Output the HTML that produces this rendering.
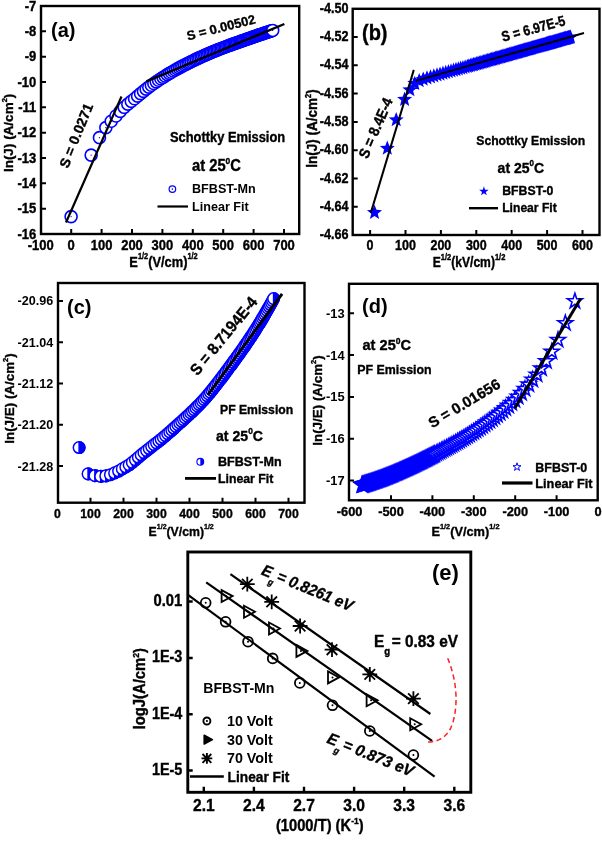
<!DOCTYPE html>
<html><head><meta charset="utf-8"><title>Figure</title>
<style>
html,body{margin:0;padding:0;background:#fff}
svg{display:block}
text{font-family:"Liberation Sans", Arial, Helvetica, sans-serif;font-weight:bold;fill:#000}
.k{stroke:#000;stroke-width:0.35px}
</style></head>
<body>
<svg width="602" height="844" viewBox="0 0 602 844">
<rect width="602" height="844" fill="#fff"/>
<g fill="#fff" stroke="#0000ff" stroke-width="1.6"><circle cx="71.1" cy="216.6" r="6"/><circle cx="91.16" cy="155.1" r="6"/><circle cx="99.47" cy="137.66" r="6"/><circle cx="105.84" cy="127.64" r="6"/><circle cx="111.22" cy="121.28" r="6"/><circle cx="115.96" cy="116.05" r="6"/><circle cx="120.24" cy="111.36" r="6"/><circle cx="124.17" cy="107.32" r="6"/><circle cx="127.84" cy="104.13" r="6"/><circle cx="131.28" cy="101.35" r="6"/><circle cx="134.54" cy="98.7" r="6"/><circle cx="137.63" cy="96.13" r="6"/><circle cx="140.59" cy="93.67" r="6"/><circle cx="143.43" cy="91.35" r="6"/><circle cx="146.16" cy="89.17" r="6"/><circle cx="148.79" cy="87.15" r="6"/><circle cx="151.34" cy="85.28" r="6"/><circle cx="153.81" cy="83.51" r="6"/><circle cx="156.21" cy="81.84" r="6"/><circle cx="158.54" cy="80.26" r="6"/><circle cx="160.81" cy="78.75" r="6"/><circle cx="163.03" cy="77.32" r="6"/><circle cx="165.19" cy="75.95" r="6"/><circle cx="167.3" cy="74.65" r="6"/><circle cx="169.37" cy="73.4" r="6"/><circle cx="171.4" cy="72.21" r="6"/><circle cx="173.39" cy="71.06" r="6"/><circle cx="175.33" cy="69.96" r="6"/><circle cx="177.25" cy="68.89" r="6"/><circle cx="179.13" cy="67.87" r="6"/><circle cx="180.97" cy="66.87" r="6"/><circle cx="182.79" cy="65.91" r="6"/><circle cx="184.58" cy="64.98" r="6"/><circle cx="186.34" cy="64.07" r="6"/><circle cx="188.07" cy="63.19" r="6"/><circle cx="189.78" cy="62.34" r="6"/><circle cx="191.46" cy="61.51" r="6"/><circle cx="193.12" cy="60.7" r="6"/><circle cx="194.76" cy="59.92" r="6"/><circle cx="196.37" cy="59.15" r="6"/><circle cx="197.97" cy="58.4" r="6"/><circle cx="199.55" cy="57.67" r="6"/><circle cx="201.1" cy="56.96" r="6"/><circle cx="202.64" cy="56.26" r="6"/><circle cx="204.16" cy="55.57" r="6"/><circle cx="205.67" cy="54.9" r="6"/><circle cx="207.15" cy="54.24" r="6"/><circle cx="208.62" cy="53.6" r="6"/><circle cx="210.08" cy="52.98" r="6"/><circle cx="211.52" cy="52.37" r="6"/><circle cx="212.95" cy="51.77" r="6"/><circle cx="214.36" cy="51.19" r="6"/><circle cx="215.75" cy="50.62" r="6"/><circle cx="217.14" cy="50.07" r="6"/><circle cx="218.51" cy="49.52" r="6"/><circle cx="219.87" cy="48.99" r="6"/><circle cx="221.22" cy="48.47" r="6"/><circle cx="222.55" cy="47.96" r="6"/><circle cx="223.87" cy="47.46" r="6"/><circle cx="225.18" cy="46.97" r="6"/><circle cx="226.48" cy="46.48" r="6"/><circle cx="227.77" cy="46.01" r="6"/><circle cx="229.05" cy="45.54" r="6"/><circle cx="230.32" cy="45.08" r="6"/><circle cx="231.58" cy="44.62" r="6"/><circle cx="232.83" cy="44.17" r="6"/><circle cx="234.07" cy="43.73" r="6"/><circle cx="235.3" cy="43.29" r="6"/><circle cx="236.52" cy="42.85" r="6"/><circle cx="237.73" cy="42.43" r="6"/><circle cx="238.93" cy="42" r="6"/><circle cx="240.13" cy="41.58" r="6"/><circle cx="241.31" cy="41.16" r="6"/><circle cx="242.49" cy="40.75" r="6"/><circle cx="243.66" cy="40.34" r="6"/><circle cx="244.82" cy="39.94" r="6"/><circle cx="245.98" cy="39.53" r="6"/><circle cx="247.13" cy="39.13" r="6"/><circle cx="248.27" cy="38.73" r="6"/><circle cx="249.4" cy="38.34" r="6"/><circle cx="250.52" cy="37.94" r="6"/><circle cx="251.64" cy="37.55" r="6"/><circle cx="252.75" cy="37.17" r="6"/><circle cx="253.86" cy="36.78" r="6"/><circle cx="254.95" cy="36.4" r="6"/><circle cx="256.04" cy="36.03" r="6"/><circle cx="257.13" cy="35.66" r="6"/><circle cx="258.21" cy="35.29" r="6"/><circle cx="259.28" cy="34.92" r="6"/><circle cx="260.35" cy="34.56" r="6"/><circle cx="261.41" cy="34.2" r="6"/><circle cx="262.46" cy="33.84" r="6"/><circle cx="263.51" cy="33.49" r="6"/><circle cx="264.55" cy="33.14" r="6"/><circle cx="265.59" cy="32.79" r="6"/><circle cx="266.62" cy="32.45" r="6"/><circle cx="267.65" cy="32.1" r="6"/><circle cx="268.67" cy="31.76" r="6"/><circle cx="269.68" cy="31.43" r="6"/><circle cx="270.69" cy="31.09" r="6"/><circle cx="271.7" cy="30.76" r="6"/><circle cx="272.7" cy="30.43" r="6"/></g>
<path d="M71.1 216.6h0.01M91.16 155.1h0.01M99.47 137.66h0.01M105.84 127.64h0.01M111.22 121.28h0.01M115.96 116.05h0.01M120.24 111.36h0.01M272.7 30.43h0.01" stroke="#0000ff" stroke-width="1.3" stroke-linecap="round" fill="none"/>
<line x1="66" y1="222.5" x2="121.5" y2="96.5" stroke="#000" stroke-width="2.2" stroke-linecap="butt"/>
<line x1="146.5" y1="81.4" x2="284.4" y2="24" stroke="#000" stroke-width="2.4" stroke-linecap="butt"/>
<rect x="41" y="6" width="258.2" height="228" fill="none" stroke="#000" stroke-width="2.4"/>
<path d="M41 208.67h5M41 183.33h5M41 158h5M41 132.67h5M41 107.33h5M41 82h5M41 56.67h5M41 31.33h5" stroke="#000" stroke-width="2" fill="none"/>
<path d="M71.2 234v-5M101.6 234v-5M132 234v-5M162.4 234v-5M192.8 234v-5M223.2 234v-5M253.6 234v-5M284 234v-5" stroke="#000" stroke-width="2" fill="none"/>
<text transform="translate(36.3 238.5) scale(1 1.07)" font-size="13" class="k" text-anchor="end">-16</text>
<text transform="translate(36.3 213.17) scale(1 1.07)" font-size="13" class="k" text-anchor="end">-15</text>
<text transform="translate(36.3 187.83) scale(1 1.07)" font-size="13" class="k" text-anchor="end">-14</text>
<text transform="translate(36.3 162.5) scale(1 1.07)" font-size="13" class="k" text-anchor="end">-13</text>
<text transform="translate(36.3 137.17) scale(1 1.07)" font-size="13" class="k" text-anchor="end">-12</text>
<text transform="translate(36.3 111.83) scale(1 1.07)" font-size="13" class="k" text-anchor="end">-11</text>
<text transform="translate(36.3 86.5) scale(1 1.07)" font-size="13" class="k" text-anchor="end">-10</text>
<text transform="translate(36.3 61.17) scale(1 1.07)" font-size="13" class="k" text-anchor="end">-9</text>
<text transform="translate(36.3 35.83) scale(1 1.07)" font-size="13" class="k" text-anchor="end">-8</text>
<text transform="translate(36.3 10.5) scale(1 1.07)" font-size="13" class="k" text-anchor="end">-7</text>
<text transform="translate(40.8 249.6) scale(1 1.12)" font-size="13" class="k" text-anchor="middle">-100</text>
<text transform="translate(71.2 249.6) scale(1 1.12)" font-size="13" class="k" text-anchor="middle">0</text>
<text transform="translate(101.6 249.6) scale(1 1.12)" font-size="13" class="k" text-anchor="middle">100</text>
<text transform="translate(132 249.6) scale(1 1.12)" font-size="13" class="k" text-anchor="middle">200</text>
<text transform="translate(162.4 249.6) scale(1 1.12)" font-size="13" class="k" text-anchor="middle">300</text>
<text transform="translate(192.8 249.6) scale(1 1.12)" font-size="13" class="k" text-anchor="middle">400</text>
<text transform="translate(223.2 249.6) scale(1 1.12)" font-size="13" class="k" text-anchor="middle">500</text>
<text transform="translate(253.6 249.6) scale(1 1.12)" font-size="13" class="k" text-anchor="middle">600</text>
<text transform="translate(284 249.6) scale(1 1.12)" font-size="13" class="k" text-anchor="middle">700</text>
<text transform="translate(13.3 132.9) rotate(-90)" font-size="13.5" class="k" text-anchor="middle">ln(J) (A/cm<tspan font-size="7.5" dy="-6">2</tspan><tspan dy="6">)</tspan></text>
<text transform="translate(129.3 267) scale(0.946 1.08)" font-size="13.6" class="k">E<tspan font-size="7.8" dy="-7.5">1/2</tspan><tspan dy="7.5">(V/cm)</tspan><tspan font-size="7.8" dy="-7.5">1/2</tspan></text>
<text transform="translate(51 36.5)" font-size="20">(a)</text>
<text transform="translate(188 40.5) rotate(-14.3)" font-size="13" class="k">S = 0.00502</text>
<text transform="translate(67.9 168.9) rotate(-68)" font-size="14" class="k">S = 0.0271</text>
<text transform="translate(170 141.8) scale(0.976 1.04)" font-size="13.2" class="k">Schottky Emission</text>
<text transform="translate(192 171) scale(1.003 1.08)" font-size="14.7" class="k">at 25<tspan font-size="8.5" dy="-6.5">0</tspan><tspan dy="6.5">C</tspan></text>
<text transform="translate(192 192.8)" font-size="12.6">BFBST-Mn</text>
<text transform="translate(192 210.5)" font-size="12.6">Linear Fit</text>
<circle cx="172.4" cy="189.1" r="3.3" fill="none" stroke="#0000ff" stroke-width="1.2"/><circle cx="172.4" cy="189.1" r="0.8" fill="#0000ff"/>
<line x1="157.5" y1="206.5" x2="188" y2="206.5" stroke="#000" stroke-width="2.2" stroke-linecap="butt"/>
<path d="M374.5 204.7L376.5 209.85L382.01 210.16L377.73 213.65L379.14 218.99L374.5 216L369.86 218.99L371.27 213.65L366.99 210.16L372.5 209.85ZM387.3 140.5L389.3 145.65L394.81 145.96L390.53 149.45L391.94 154.79L387.3 151.8L382.66 154.79L384.07 149.45L379.79 145.96L385.3 145.65ZM396.2 112L398.2 117.15L403.71 117.46L399.43 120.95L400.84 126.29L396.2 123.3L391.56 126.29L392.97 120.95L388.69 117.46L394.2 117.15ZM404.6 91.6L406.6 96.75L412.11 97.06L407.83 100.55L409.24 105.89L404.6 102.9L399.96 105.89L401.37 100.55L397.09 97.06L402.6 96.75ZM409.89 82L411.89 87.15L417.4 87.46L413.12 90.95L414.53 96.29L409.89 93.3L405.25 96.29L406.66 90.95L402.38 87.46L407.89 87.15ZM414.79 75.65L416.78 80.8L422.3 81.11L418.02 84.6L419.43 89.94L414.79 86.95L410.14 89.94L411.55 84.6L407.27 81.11L412.79 80.8ZM419.2 73.02L421.19 78.17L426.71 78.48L422.43 81.97L423.84 87.31L419.2 84.32L414.55 87.31L415.96 81.97L411.68 78.48L417.2 78.17ZM423.24 71.43L425.24 76.58L430.75 76.89L426.47 80.38L427.88 85.72L423.24 82.73L418.6 85.72L420.01 80.38L415.73 76.89L421.24 76.58ZM427 70.21L428.99 75.36L434.51 75.67L430.23 79.16L431.64 84.5L427 81.51L422.35 84.5L423.77 79.16L419.48 75.67L425 75.36ZM430.52 69.15L432.52 74.3L438.04 74.61L433.75 78.1L435.17 83.44L430.52 80.44L425.88 83.44L427.29 78.1L423.01 74.61L428.53 74.3ZM433.85 68.18L435.85 73.33L441.37 73.63L437.08 77.13L438.5 82.47L433.85 79.47L429.21 82.47L430.62 77.13L426.34 73.63L431.86 73.33ZM437.02 67.27L439.01 72.42L444.53 72.72L440.25 76.21L441.66 81.56L437.02 78.56L432.37 81.56L433.79 76.21L429.5 72.72L435.02 72.42ZM440.04 66.4L442.04 71.55L447.55 71.86L443.27 75.35L444.68 80.69L440.04 77.7L435.4 80.69L436.81 75.35L432.53 71.86L438.04 71.55ZM442.94 65.57L444.93 70.73L450.45 71.03L446.17 74.52L447.58 79.86L442.94 76.87L438.29 79.86L439.71 74.52L435.42 71.03L440.94 70.73ZM445.72 64.78L447.72 69.93L453.24 70.24L448.95 73.73L450.37 79.07L445.72 76.08L441.08 79.07L442.49 73.73L438.21 70.24L443.73 69.93ZM448.41 64.01L450.41 69.17L455.92 69.47L451.64 72.96L453.05 78.3L448.41 75.31L443.76 78.3L445.18 72.96L440.9 69.47L446.41 69.17ZM451.01 63.27L453 68.43L458.52 68.73L454.24 72.22L455.65 77.56L451.01 74.57L446.36 77.56L447.78 72.22L443.49 68.73L449.01 68.43ZM453.52 62.56L455.52 67.71L461.04 68.02L456.75 71.51L458.17 76.85L453.52 73.85L448.88 76.85L450.29 71.51L446.01 68.02L451.53 67.71ZM455.97 61.86L457.96 67.01L463.48 67.32L459.2 70.81L460.61 76.15L455.97 73.16L451.32 76.15L452.73 70.81L448.45 67.32L453.97 67.01ZM458.34 61.18L460.34 66.34L465.85 66.64L461.57 70.13L462.98 75.48L458.34 72.48L453.7 75.48L455.11 70.13L450.83 66.64L456.34 66.34ZM460.65 60.53L462.65 65.68L468.17 65.98L463.88 69.48L465.3 74.82L460.65 71.82L456.01 74.82L457.42 69.48L453.14 65.98L458.66 65.68ZM462.91 59.88L464.91 65.04L470.42 65.34L466.14 68.83L467.55 74.17L462.91 71.18L458.27 74.17L459.68 68.83L455.4 65.34L460.91 65.04ZM465.11 59.26L467.11 64.41L472.62 64.72L468.34 68.21L469.75 73.55L465.11 70.55L460.47 73.55L461.88 68.21L457.6 64.72L463.11 64.41ZM467.26 58.64L469.26 63.8L474.78 64.1L470.49 67.59L471.91 72.93L467.26 69.94L462.62 72.93L464.03 67.59L459.75 64.1L465.27 63.8ZM468.86 58.19L470.86 63.34L476.37 63.65L472.09 67.14L473.51 72.48L468.86 69.49L464.22 72.48L465.63 67.14L461.35 63.65L466.86 63.34ZM470.44 57.74L472.43 62.89L477.95 63.2L473.67 66.69L475.08 72.03L470.44 69.04L465.79 72.03L467.2 66.69L462.92 63.2L468.44 62.89ZM471.98 57.3L473.98 62.45L479.5 62.76L475.22 66.25L476.63 71.59L471.98 68.6L467.34 71.59L468.75 66.25L464.47 62.76L469.99 62.45ZM473.51 56.86L475.51 62.02L481.02 62.32L476.74 65.81L478.15 71.16L473.51 68.16L468.87 71.16L470.28 65.81L466 62.32L471.51 62.02ZM475.01 56.44L477.01 61.59L482.53 61.89L478.25 65.39L479.66 70.73L475.01 67.73L470.37 70.73L471.78 65.39L467.5 61.89L473.02 61.59ZM476.5 56.01L478.49 61.17L484.01 61.47L479.73 64.96L481.14 70.3L476.5 67.31L471.85 70.3L473.27 64.96L468.98 61.47L474.5 61.17ZM477.96 55.6L479.96 60.75L485.47 61.06L481.19 64.55L482.6 69.89L477.96 66.89L473.32 69.89L474.73 64.55L470.45 61.06L475.96 60.75ZM479.4 55.19L481.4 60.34L486.92 60.64L482.63 64.14L484.05 69.48L479.4 66.48L474.76 69.48L476.17 64.14L471.89 60.64L477.41 60.34ZM480.83 54.78L482.82 59.93L488.34 60.24L484.06 63.73L485.47 69.07L480.83 66.08L476.18 69.07L477.59 63.73L473.31 60.24L478.83 59.93ZM482.23 54.38L484.23 59.53L489.74 59.84L485.46 63.33L486.87 68.67L482.23 65.68L477.59 68.67L479 63.33L474.72 59.84L480.23 59.53ZM483.62 53.98L485.62 59.14L491.13 59.44L486.85 62.93L488.26 68.28L483.62 65.28L478.98 68.28L480.39 62.93L476.11 59.44L481.62 59.14ZM484.99 53.59L486.99 58.75L492.5 59.05L488.22 62.54L489.63 67.89L484.99 64.89L480.35 67.89L481.76 62.54L477.48 59.05L482.99 58.75ZM486.35 53.21L488.34 58.36L493.86 58.67L489.58 62.16L490.99 67.5L486.35 64.51L481.7 67.5L483.12 62.16L478.83 58.67L484.35 58.36ZM487.69 52.83L489.68 57.98L495.2 58.29L490.92 61.78L492.33 67.12L487.69 64.12L483.04 67.12L484.46 61.78L480.17 58.29L485.69 57.98ZM489.01 52.45L491.01 57.6L496.52 57.91L492.24 61.4L493.65 66.74L489.01 63.75L484.37 66.74L485.78 61.4L481.5 57.91L487.01 57.6ZM490.32 52.08L492.32 57.23L497.83 57.54L493.55 61.03L494.96 66.37L490.32 63.37L485.68 66.37L487.09 61.03L482.81 57.54L488.32 57.23ZM491.62 51.71L493.61 56.86L499.13 57.17L494.85 60.66L496.26 66L491.62 63L486.97 66L488.39 60.66L484.1 57.17L489.62 56.86ZM492.9 51.34L494.9 56.49L500.41 56.8L496.13 60.29L497.54 65.63L492.9 62.64L488.26 65.63L489.67 60.29L485.39 56.8L490.9 56.49ZM494.17 50.98L496.17 56.13L501.68 56.44L497.4 59.93L498.81 65.27L494.17 62.28L489.53 65.27L490.94 59.93L486.66 56.44L492.17 56.13ZM495.42 50.62L497.42 55.77L502.94 56.08L498.66 59.57L500.07 64.91L495.42 61.92L490.78 64.91L492.19 59.57L487.91 56.08L493.43 55.77ZM496.67 50.27L498.67 55.42L504.18 55.73L499.9 59.22L501.31 64.56L496.67 61.57L492.03 64.56L493.44 59.22L489.16 55.73L494.67 55.42ZM497.9 49.92L499.9 55.07L505.41 55.38L501.13 58.87L502.54 64.21L497.9 61.21L493.26 64.21L494.67 58.87L490.39 55.38L495.9 55.07ZM499.12 49.57L501.12 54.72L506.63 55.03L502.35 58.52L503.76 63.86L499.12 60.87L494.48 63.86L495.89 58.52L491.61 55.03L497.12 54.72ZM500.33 49.23L502.33 54.38L507.84 54.68L503.56 58.18L504.97 63.52L500.33 60.52L495.69 63.52L497.1 58.18L492.82 54.68L498.33 54.38ZM501.53 48.89L503.52 54.04L509.04 54.34L504.76 57.83L506.17 63.18L501.53 60.18L496.88 63.18L498.3 57.83L494.01 54.34L499.53 54.04ZM502.71 48.55L504.71 53.7L510.23 54.01L505.94 57.5L507.36 62.84L502.71 59.84L498.07 62.84L499.48 57.5L495.2 54.01L500.72 53.7ZM503.89 48.21L505.89 53.36L511.4 53.67L507.12 57.16L508.53 62.5L503.89 59.51L499.25 62.5L500.66 57.16L496.38 53.67L501.89 53.36ZM505.05 47.88L507.05 53.03L512.57 53.34L508.29 56.83L509.7 62.17L505.05 59.18L500.41 62.17L501.82 56.83L497.54 53.34L503.06 53.03ZM506.21 47.55L508.21 52.7L513.72 53.01L509.44 56.5L510.85 61.84L506.21 58.85L501.57 61.84L502.98 56.5L498.7 53.01L504.21 52.7ZM507.36 47.22L509.35 52.38L514.87 52.68L510.59 56.17L512 61.52L507.36 58.52L502.71 61.52L504.13 56.17L499.84 52.68L505.36 52.38ZM508.49 46.9L510.49 52.05L516.01 52.36L511.72 55.85L513.14 61.19L508.49 58.2L503.85 61.19L505.26 55.85L500.98 52.36L506.5 52.05ZM509.62 46.58L511.62 51.73L517.13 52.04L512.85 55.53L514.26 60.87L509.62 57.88L504.98 60.87L506.39 55.53L502.11 52.04L507.62 51.73ZM510.74 46.26L512.73 51.41L518.25 51.72L513.97 55.21L515.38 60.55L510.74 57.56L506.09 60.55L507.51 55.21L503.22 51.72L508.74 51.41ZM511.85 45.95L513.84 51.1L519.36 51.4L515.08 54.9L516.49 60.24L511.85 57.24L507.2 60.24L508.62 54.9L504.33 51.4L509.85 51.1ZM512.95 45.63L514.95 50.78L520.46 51.09L516.18 54.58L517.59 59.92L512.95 56.93L508.31 59.92L509.72 54.58L505.44 51.09L510.95 50.78ZM514.04 45.32L516.04 50.47L521.55 50.78L517.27 54.27L518.68 59.61L514.04 56.62L509.4 59.61L510.81 54.27L506.53 50.78L512.04 50.47ZM515.13 45.01L517.12 50.16L522.64 50.47L518.36 53.96L519.77 59.3L515.13 56.31L510.48 59.3L511.89 53.96L507.61 50.47L513.13 50.16ZM516.2 44.71L518.2 49.86L523.71 50.16L519.43 53.66L520.84 59L516.2 56L511.56 59L512.97 53.66L508.69 50.16L514.2 49.86ZM517.27 44.4L519.27 49.55L524.78 49.86L520.5 53.35L521.91 58.69L517.27 55.7L512.63 58.69L514.04 53.35L509.76 49.86L515.27 49.55ZM518.33 44.1L520.33 49.25L525.84 49.56L521.56 53.05L522.97 58.39L518.33 55.4L513.69 58.39L515.1 53.05L510.82 49.56L516.33 49.25ZM519.38 43.8L521.38 48.95L526.9 49.26L522.61 52.75L524.03 58.09L519.38 55.1L514.74 58.09L516.15 52.75L511.87 49.26L517.39 48.95ZM520.43 43.5L522.43 48.65L527.94 48.96L523.66 52.45L525.07 57.79L520.43 54.8L515.79 57.79L517.2 52.45L512.92 48.96L518.43 48.65ZM521.47 43.21L523.46 48.36L528.98 48.66L524.7 52.16L526.11 57.5L521.47 54.5L516.82 57.5L518.24 52.16L513.95 48.66L519.47 48.36ZM522.5 42.91L524.5 48.06L530.01 48.37L525.73 51.86L527.14 57.2L522.5 54.21L517.86 57.2L519.27 51.86L514.99 48.37L520.5 48.06ZM523.52 42.62L525.52 47.77L531.04 48.08L526.75 51.57L528.17 56.91L523.52 53.92L518.88 56.91L520.29 51.57L516.01 48.08L521.53 47.77ZM524.54 42.33L526.54 47.48L532.05 47.79L527.77 51.28L529.18 56.62L524.54 53.63L519.9 56.62L521.31 51.28L517.03 47.79L522.54 47.48ZM525.55 42.04L527.55 47.19L533.06 47.5L528.78 50.99L530.2 56.33L525.55 53.34L520.91 56.33L522.32 50.99L518.04 47.5L523.55 47.19ZM526.56 41.76L528.55 46.91L534.07 47.22L529.79 50.71L531.2 56.05L526.56 53.05L521.91 56.05L523.33 50.71L519.04 47.22L524.56 46.91ZM527.55 41.47L529.55 46.62L535.07 46.93L530.78 50.42L532.2 55.76L527.55 52.77L522.91 55.76L524.32 50.42L520.04 46.93L525.56 46.62ZM528.55 41.19L530.54 46.34L536.06 46.65L531.78 50.14L533.19 55.48L528.55 52.49L523.9 55.48L525.32 50.14L521.03 46.65L526.55 46.34ZM529.53 40.91L531.53 46.06L537.04 46.37L532.76 49.86L534.17 55.2L529.53 52.21L524.89 55.2L526.3 49.86L522.02 46.37L527.53 46.06ZM530.51 40.63L532.51 45.78L538.02 46.09L533.74 49.58L535.15 54.92L530.51 51.93L525.87 54.92L527.28 49.58L523 46.09L528.51 45.78ZM531.48 40.35L533.48 45.5L539 45.81L534.72 49.3L536.13 54.64L531.48 51.65L526.84 54.64L528.25 49.3L523.97 45.81L529.49 45.5ZM532.45 40.08L534.45 45.23L539.97 45.54L535.68 49.03L537.1 54.37L532.45 51.37L527.81 54.37L529.22 49.03L524.94 45.54L530.46 45.23ZM533.41 39.8L535.41 44.96L540.93 45.26L536.64 48.75L538.06 54.09L533.41 51.1L528.77 54.09L530.18 48.75L525.9 45.26L531.42 44.96ZM534.37 39.53L536.37 44.68L541.88 44.99L537.6 48.48L539.01 53.82L534.37 50.83L529.73 53.82L531.14 48.48L526.86 44.99L532.37 44.68ZM535.32 39.26L537.32 44.41L542.83 44.72L538.55 48.21L539.96 53.55L535.32 50.56L530.68 53.55L532.09 48.21L527.81 44.72L533.32 44.41ZM536.27 38.99L538.26 44.14L543.78 44.45L539.5 47.94L540.91 53.28L536.27 50.29L531.62 53.28L533.04 47.94L528.75 44.45L534.27 44.14ZM537.21 38.72L539.2 43.88L544.72 44.18L540.44 47.67L541.85 53.01L537.21 50.02L532.56 53.01L533.98 47.67L529.69 44.18L535.21 43.88ZM538.14 38.46L540.14 43.61L545.65 43.92L541.37 47.41L542.79 52.75L538.14 49.75L533.5 52.75L534.91 47.41L530.63 43.92L536.14 43.61ZM539.07 38.19L541.07 43.34L546.58 43.65L542.3 47.14L543.71 52.48L539.07 49.49L534.43 52.48L535.84 47.14L531.56 43.65L537.07 43.34ZM540 37.93L541.99 43.08L547.51 43.39L543.23 46.88L544.64 52.22L540 49.23L535.35 52.22L536.76 46.88L532.48 43.39L538 43.08ZM540.92 37.67L542.91 42.82L548.43 43.13L544.15 46.62L545.56 51.96L540.92 48.96L536.27 51.96L537.68 46.62L533.4 43.13L538.92 42.82ZM541.83 37.41L543.83 42.56L549.34 42.87L545.06 46.36L546.47 51.7L541.83 48.7L537.19 51.7L538.6 46.36L534.32 42.87L539.83 42.56ZM542.74 37.15L544.74 42.3L550.25 42.61L545.97 46.1L547.38 51.44L542.74 48.44L538.1 51.44L539.51 46.1L535.23 42.61L540.74 42.3ZM543.64 36.89L545.64 42.04L551.16 42.35L546.88 45.84L548.29 51.18L543.64 48.19L539 51.18L540.41 45.84L536.13 42.35L541.65 42.04ZM544.54 36.63L546.54 41.79L552.06 42.09L547.78 45.58L549.19 50.92L544.54 47.93L539.9 50.92L541.31 45.58L537.03 42.09L542.55 41.79ZM545.44 36.38L547.44 41.53L552.95 41.84L548.67 45.33L550.08 50.67L545.44 47.68L540.8 50.67L542.21 45.33L537.93 41.84L543.44 41.53ZM546.33 36.12L548.33 41.28L553.84 41.58L549.56 45.07L550.98 50.42L546.33 47.42L541.69 50.42L543.1 45.07L538.82 41.58L544.33 41.28ZM547.22 35.87L549.21 41.02L554.73 41.33L550.45 44.82L551.86 50.16L547.22 47.17L542.57 50.16L543.99 44.82L539.7 41.33L545.22 41.02ZM548.1 35.62L550.1 40.77L555.61 41.08L551.33 44.57L552.74 49.91L548.1 46.92L543.46 49.91L544.87 44.57L540.59 41.08L546.1 40.77ZM548.98 35.37L550.97 40.52L556.49 40.83L552.21 44.32L553.62 49.66L548.98 46.67L544.33 49.66L545.75 44.32L541.46 40.83L546.98 40.52ZM549.85 35.12L551.85 40.27L557.37 40.58L553.08 44.07L554.5 49.41L549.85 46.42L545.21 49.41L546.62 44.07L542.34 40.58L547.86 40.27ZM550.72 34.87L552.72 40.03L558.23 40.33L553.95 43.82L555.36 49.17L550.72 46.17L546.08 49.17L547.49 43.82L543.21 40.33L548.72 40.03ZM551.59 34.63L553.58 39.78L559.1 40.09L554.82 43.58L556.23 48.92L551.59 45.93L546.94 48.92L548.36 43.58L544.07 40.09L549.59 39.78ZM552.45 34.38L554.44 39.53L559.96 39.84L555.68 43.33L557.09 48.67L552.45 45.68L547.8 48.67L549.22 43.33L544.93 39.84L550.45 39.53ZM553.3 34.14L555.3 39.29L560.82 39.6L556.54 43.09L557.95 48.43L553.3 45.44L548.66 48.43L550.07 43.09L545.79 39.6L551.31 39.29ZM554.16 33.9L556.15 39.05L561.67 39.35L557.39 42.85L558.8 48.19L554.16 45.19L549.51 48.19L550.93 42.85L546.64 39.35L552.16 39.05ZM555.01 33.65L557 38.81L562.52 39.11L558.24 42.6L559.65 47.95L555.01 44.95L550.36 47.95L551.78 42.6L547.49 39.11L553.01 38.81ZM555.85 33.41L557.85 38.56L563.37 38.87L559.08 42.36L560.5 47.7L555.85 44.71L551.21 47.7L552.62 42.36L548.34 38.87L553.86 38.56ZM556.69 33.17L558.69 38.33L564.21 38.63L559.92 42.12L561.34 47.46L556.69 44.47L552.05 47.46L553.46 42.12L549.18 38.63L554.7 38.33ZM557.53 32.94L559.53 38.09L565.04 38.39L560.76 41.88L562.17 47.23L557.53 44.23L552.89 47.23L554.3 41.88L550.02 38.39L555.53 38.09ZM558.36 32.7L560.36 37.85L565.88 38.16L561.6 41.65L563.01 46.99L558.36 43.99L553.72 46.99L555.13 41.65L550.85 38.16L556.37 37.85ZM559.19 32.46L561.19 37.61L566.71 37.92L562.43 41.41L563.84 46.75L559.19 43.76L554.55 46.75L555.96 41.41L551.68 37.92L557.2 37.61ZM560.02 32.23L562.02 37.38L567.53 37.68L563.25 41.18L564.67 46.52L560.02 43.52L555.38 46.52L556.79 41.18L552.51 37.68L558.02 37.38ZM560.84 31.99L562.84 37.14L568.36 37.45L564.08 40.94L565.49 46.28L560.84 43.29L556.2 46.28L557.61 40.94L553.33 37.45L558.85 37.14ZM561.66 31.76L563.66 36.91L569.18 37.22L564.89 40.71L566.31 46.05L561.66 43.05L557.02 46.05L558.43 40.71L554.15 37.22L559.67 36.91ZM562.48 31.53L564.48 36.68L569.99 36.98L565.71 40.48L567.12 45.82L562.48 42.82L557.84 45.82L559.25 40.48L554.97 36.98L560.48 36.68ZM563.29 31.29L565.29 36.45L570.81 36.75L566.52 40.24L567.94 45.59L563.29 42.59L558.65 45.59L560.06 40.24L555.78 36.75L561.3 36.45ZM564.1 31.06L566.1 36.22L571.62 36.52L567.33 40.01L568.75 45.35L564.1 42.36L559.46 45.35L560.87 40.01L556.59 36.52L562.1 36.22ZM564.91 30.83L566.9 35.99L572.42 36.29L568.14 39.78L569.55 45.13L564.91 42.13L560.26 45.13L561.68 39.78L557.39 36.29L562.91 35.99ZM565.71 30.61L567.71 35.76L573.22 36.06L568.94 39.56L570.35 44.9L565.71 41.9L561.07 44.9L562.48 39.56L558.2 36.06L563.71 35.76ZM566.51 30.38L568.51 35.53L574.02 35.84L569.74 39.33L571.15 44.67L566.51 41.68L561.87 44.67L563.28 39.33L559 35.84L564.51 35.53ZM567.31 30.15L569.3 35.3L574.82 35.61L570.54 39.1L571.95 44.44L567.31 41.45L562.66 44.44L564.07 39.1L559.79 35.61L565.31 35.3ZM568.1 29.93L570.09 35.08L575.61 35.38L571.33 38.88L572.74 44.22L568.1 41.22L563.45 44.22L564.87 38.88L560.58 35.38L566.1 35.08ZM568.89 29.7L570.88 34.85L576.4 35.16L572.12 38.65L573.53 43.99L568.89 41L564.24 43.99L565.66 38.65L561.37 35.16L566.89 34.85ZM569.67 29.48L571.67 34.63L577.19 34.94L572.9 38.43L574.32 43.77L569.67 40.77L565.03 43.77L566.44 38.43L562.16 34.94L567.68 34.63ZM570.46 29.25L572.45 34.41L577.97 34.71L573.69 38.2L575.1 43.54L570.46 40.55L565.81 43.54L567.23 38.2L562.94 34.71L568.46 34.41Z" fill="#0000ff"/>
<line x1="370.9" y1="212.6" x2="413.8" y2="69.9" stroke="#000" stroke-width="2" stroke-linecap="butt"/>
<line x1="415.8" y1="80.9" x2="584" y2="33" stroke="#000" stroke-width="2" stroke-linecap="butt"/>
<rect x="352.7" y="8.8" width="246.8" height="226.2" fill="none" stroke="#000" stroke-width="2.4"/>
<path d="M352.7 37.07h5M352.7 65.35h5M352.7 93.62h5M352.7 121.9h5M352.7 150.17h5M352.7 178.45h5M352.7 206.72h5" stroke="#000" stroke-width="2" fill="none"/>
<path d="M370.1 235v-5M405.5 235v-5M440.9 235v-5M476.3 235v-5M511.7 235v-5M547.1 235v-5M582.5 235v-5" stroke="#000" stroke-width="2" fill="none"/>
<text transform="translate(348.5 12.9) scale(1 1.1)" font-size="12.6" class="k" text-anchor="end">-4.50</text>
<text transform="translate(348.5 41.17) scale(1 1.1)" font-size="12.6" class="k" text-anchor="end">-4.52</text>
<text transform="translate(348.5 69.45) scale(1 1.1)" font-size="12.6" class="k" text-anchor="end">-4.54</text>
<text transform="translate(348.5 97.72) scale(1 1.1)" font-size="12.6" class="k" text-anchor="end">-4.56</text>
<text transform="translate(348.5 126) scale(1 1.1)" font-size="12.6" class="k" text-anchor="end">-4.58</text>
<text transform="translate(348.5 154.27) scale(1 1.1)" font-size="12.6" class="k" text-anchor="end">-4.60</text>
<text transform="translate(348.5 182.55) scale(1 1.1)" font-size="12.6" class="k" text-anchor="end">-4.62</text>
<text transform="translate(348.5 210.82) scale(1 1.1)" font-size="12.6" class="k" text-anchor="end">-4.64</text>
<text transform="translate(348.5 239.1) scale(1 1.1)" font-size="12.6" class="k" text-anchor="end">-4.66</text>
<text transform="translate(370.1 250.4) scale(1 1.1)" font-size="12.5" class="k" text-anchor="middle">0</text>
<text transform="translate(405.5 250.4) scale(1 1.1)" font-size="12.5" class="k" text-anchor="middle">100</text>
<text transform="translate(440.9 250.4) scale(1 1.1)" font-size="12.5" class="k" text-anchor="middle">200</text>
<text transform="translate(476.3 250.4) scale(1 1.1)" font-size="12.5" class="k" text-anchor="middle">300</text>
<text transform="translate(511.7 250.4) scale(1 1.1)" font-size="12.5" class="k" text-anchor="middle">400</text>
<text transform="translate(547.1 250.4) scale(1 1.1)" font-size="12.5" class="k" text-anchor="middle">500</text>
<text transform="translate(582.5 250.4) scale(1 1.1)" font-size="12.5" class="k" text-anchor="middle">600</text>
<text transform="translate(317.3 128.5) rotate(-90) scale(1 1.1)" font-size="13.5" class="k" text-anchor="middle">ln(J) (A/cm<tspan font-size="7.5" dy="-6">2</tspan><tspan dy="6">)</tspan></text>
<text transform="translate(432.7 267.4) scale(0.962 1.1)" font-size="12.6" class="k">E<tspan font-size="7.8" dy="-6.5">1/2</tspan><tspan dy="6.5">(kV/cm)</tspan><tspan font-size="7.8" dy="-6.5">1/2</tspan></text>
<text transform="translate(362 40) scale(1 1.1)" font-size="20" class="k">(b)</text>
<text transform="translate(503 41.8) rotate(-15) scale(0.949 1.1)" font-size="13" class="k">S = 6.97E-5</text>
<text transform="translate(367.5 159.5) rotate(-66.6) scale(1 1.1)" font-size="13.5" class="k">S = 8.4E-4</text>
<text transform="translate(476.3 145) scale(0.999 1.1)" font-size="12.2" class="k">Schottky Emission</text>
<text transform="translate(497.6 172.7) scale(1.001 1.1)" font-size="14" class="k">at 25<tspan font-size="8" dy="-6.5">0</tspan><tspan dy="6.5">C</tspan></text>
<text transform="translate(502.2 195.2) scale(1.007 1.05)" font-size="12.2" class="k">BFBST-0</text>
<text transform="translate(502.2 212.2) scale(0.994 1.05)" font-size="12.2" class="k">Linear Fit</text>
<path d="M483.9 186.3L485.02 189.75L488.66 189.75L485.72 191.89L486.84 195.35L483.9 193.21L480.96 195.35L482.08 191.89L479.14 189.75L482.78 189.75Z" fill="#0000ff"/>
<line x1="469" y1="208.2" x2="498" y2="208.2" stroke="#000" stroke-width="2.4" stroke-linecap="butt"/>
<g stroke="#0000ff" stroke-width="1.5"><circle cx="79.11" cy="447.51" r="5.8" fill="#fff"/><path d="M79.11 441.71a5.8 5.8 0 0 1 0 11.6z" fill="#0000ff"/><circle cx="88.06" cy="473.83" r="5.8" fill="#fff"/><path d="M88.06 468.03a5.8 5.8 0 0 1 0 11.6z" fill="#0000ff"/><circle cx="94.93" cy="475.67" r="5.8" fill="#fff"/><path d="M94.93 469.87a5.8 5.8 0 0 1 0 11.6z" fill="#0000ff"/><circle cx="100.72" cy="476.4" r="5.8" fill="#fff"/><path d="M100.72 470.6a5.8 5.8 0 0 1 0 11.6z" fill="#0000ff"/><circle cx="105.82" cy="475.88" r="5.8" fill="#fff"/><path d="M105.82 470.08a5.8 5.8 0 0 1 0 11.6z" fill="#0000ff"/><circle cx="110.43" cy="474.69" r="5.8" fill="#fff"/><path d="M110.43 468.89a5.8 5.8 0 0 1 0 11.6z" fill="#0000ff"/><circle cx="114.67" cy="472.9" r="5.8" fill="#fff"/><path d="M114.67 467.1a5.8 5.8 0 0 1 0 11.6z" fill="#0000ff"/><circle cx="118.62" cy="471.04" r="5.8" fill="#fff"/><path d="M118.62 465.24a5.8 5.8 0 0 1 0 11.6z" fill="#0000ff"/><circle cx="122.33" cy="468.9" r="5.8" fill="#fff"/><path d="M122.33 463.1a5.8 5.8 0 0 1 0 11.6z" fill="#0000ff"/><circle cx="125.84" cy="466.9" r="5.8" fill="#fff"/><path d="M125.84 461.1a5.8 5.8 0 0 1 0 11.6z" fill="#0000ff"/><circle cx="129.17" cy="464.82" r="5.8" fill="#fff"/><path d="M129.17 459.02a5.8 5.8 0 0 1 0 11.6z" fill="#0000ff"/><circle cx="132.36" cy="462.4" r="5.8" fill="#fff"/><path d="M132.36 456.6a5.8 5.8 0 0 1 0 11.6z" fill="#0000ff"/><circle cx="135.42" cy="459.82" r="5.8" fill="#fff"/><path d="M135.42 454.02a5.8 5.8 0 0 1 0 11.6z" fill="#0000ff"/><circle cx="138.36" cy="457.28" r="5.8" fill="#fff"/><path d="M138.36 451.48a5.8 5.8 0 0 1 0 11.6z" fill="#0000ff"/><circle cx="141.2" cy="454.92" r="5.8" fill="#fff"/><path d="M141.2 449.12a5.8 5.8 0 0 1 0 11.6z" fill="#0000ff"/><circle cx="143.94" cy="452.7" r="5.8" fill="#fff"/><path d="M143.94 446.9a5.8 5.8 0 0 1 0 11.6z" fill="#0000ff"/><circle cx="146.6" cy="450.57" r="5.8" fill="#fff"/><path d="M146.6 444.77a5.8 5.8 0 0 1 0 11.6z" fill="#0000ff"/><circle cx="149.18" cy="448.52" r="5.8" fill="#fff"/><path d="M149.18 442.72a5.8 5.8 0 0 1 0 11.6z" fill="#0000ff"/><circle cx="151.7" cy="446.54" r="5.8" fill="#fff"/><path d="M151.7 440.74a5.8 5.8 0 0 1 0 11.6z" fill="#0000ff"/><circle cx="154.14" cy="444.67" r="5.8" fill="#fff"/><path d="M154.14 438.87a5.8 5.8 0 0 1 0 11.6z" fill="#0000ff"/><circle cx="156.53" cy="442.86" r="5.8" fill="#fff"/><path d="M156.53 437.06a5.8 5.8 0 0 1 0 11.6z" fill="#0000ff"/><circle cx="158.86" cy="441.06" r="5.8" fill="#fff"/><path d="M158.86 435.26a5.8 5.8 0 0 1 0 11.6z" fill="#0000ff"/><circle cx="161.14" cy="439.25" r="5.8" fill="#fff"/><path d="M161.14 433.45a5.8 5.8 0 0 1 0 11.6z" fill="#0000ff"/><circle cx="163.37" cy="437.41" r="5.8" fill="#fff"/><path d="M163.37 431.61a5.8 5.8 0 0 1 0 11.6z" fill="#0000ff"/><circle cx="165.55" cy="435.57" r="5.8" fill="#fff"/><path d="M165.55 429.77a5.8 5.8 0 0 1 0 11.6z" fill="#0000ff"/><circle cx="167.69" cy="433.73" r="5.8" fill="#fff"/><path d="M167.69 427.93a5.8 5.8 0 0 1 0 11.6z" fill="#0000ff"/><circle cx="169.79" cy="431.89" r="5.8" fill="#fff"/><path d="M169.79 426.09a5.8 5.8 0 0 1 0 11.6z" fill="#0000ff"/><circle cx="171.85" cy="430.07" r="5.8" fill="#fff"/><path d="M171.85 424.27a5.8 5.8 0 0 1 0 11.6z" fill="#0000ff"/><circle cx="173.87" cy="428.25" r="5.8" fill="#fff"/><path d="M173.87 422.45a5.8 5.8 0 0 1 0 11.6z" fill="#0000ff"/><circle cx="175.86" cy="426.46" r="5.8" fill="#fff"/><path d="M175.86 420.66a5.8 5.8 0 0 1 0 11.6z" fill="#0000ff"/><circle cx="177.82" cy="424.7" r="5.8" fill="#fff"/><path d="M177.82 418.9a5.8 5.8 0 0 1 0 11.6z" fill="#0000ff"/><circle cx="179.74" cy="422.97" r="5.8" fill="#fff"/><path d="M179.74 417.17a5.8 5.8 0 0 1 0 11.6z" fill="#0000ff"/><circle cx="181.64" cy="421.26" r="5.8" fill="#fff"/><path d="M181.64 415.46a5.8 5.8 0 0 1 0 11.6z" fill="#0000ff"/><circle cx="183.51" cy="419.58" r="5.8" fill="#fff"/><path d="M183.51 413.78a5.8 5.8 0 0 1 0 11.6z" fill="#0000ff"/><circle cx="185.35" cy="417.9" r="5.8" fill="#fff"/><path d="M185.35 412.1a5.8 5.8 0 0 1 0 11.6z" fill="#0000ff"/><circle cx="187.16" cy="416.23" r="5.8" fill="#fff"/><path d="M187.16 410.43a5.8 5.8 0 0 1 0 11.6z" fill="#0000ff"/><circle cx="188.95" cy="414.57" r="5.8" fill="#fff"/><path d="M188.95 408.77a5.8 5.8 0 0 1 0 11.6z" fill="#0000ff"/><circle cx="190.71" cy="412.91" r="5.8" fill="#fff"/><path d="M190.71 407.11a5.8 5.8 0 0 1 0 11.6z" fill="#0000ff"/><circle cx="192.45" cy="411.25" r="5.8" fill="#fff"/><path d="M192.45 405.45a5.8 5.8 0 0 1 0 11.6z" fill="#0000ff"/><circle cx="194.17" cy="409.59" r="5.8" fill="#fff"/><path d="M194.17 403.79a5.8 5.8 0 0 1 0 11.6z" fill="#0000ff"/><circle cx="195.87" cy="407.92" r="5.8" fill="#fff"/><path d="M195.87 402.12a5.8 5.8 0 0 1 0 11.6z" fill="#0000ff"/><circle cx="197.55" cy="406.23" r="5.8" fill="#fff"/><path d="M197.55 400.43a5.8 5.8 0 0 1 0 11.6z" fill="#0000ff"/><circle cx="199.21" cy="404.54" r="5.8" fill="#fff"/><path d="M199.21 398.74a5.8 5.8 0 0 1 0 11.6z" fill="#0000ff"/><circle cx="200.84" cy="402.83" r="5.8" fill="#fff"/><path d="M200.84 397.03a5.8 5.8 0 0 1 0 11.6z" fill="#0000ff"/><circle cx="202.46" cy="401.1" r="5.8" fill="#fff"/><path d="M202.46 395.3a5.8 5.8 0 0 1 0 11.6z" fill="#0000ff"/><circle cx="204.07" cy="399.35" r="5.8" fill="#fff"/><path d="M204.07 393.55a5.8 5.8 0 0 1 0 11.6z" fill="#0000ff"/><circle cx="205.65" cy="397.57" r="5.8" fill="#fff"/><path d="M205.65 391.77a5.8 5.8 0 0 1 0 11.6z" fill="#0000ff"/><circle cx="207.22" cy="395.77" r="5.8" fill="#fff"/><path d="M207.22 389.97a5.8 5.8 0 0 1 0 11.6z" fill="#0000ff"/><circle cx="208.77" cy="393.94" r="5.8" fill="#fff"/><path d="M208.77 388.14a5.8 5.8 0 0 1 0 11.6z" fill="#0000ff"/><circle cx="210.31" cy="392.1" r="5.8" fill="#fff"/><path d="M210.31 386.3a5.8 5.8 0 0 1 0 11.6z" fill="#0000ff"/><circle cx="211.83" cy="390.24" r="5.8" fill="#fff"/><path d="M211.83 384.44a5.8 5.8 0 0 1 0 11.6z" fill="#0000ff"/><circle cx="213.33" cy="388.37" r="5.8" fill="#fff"/><path d="M213.33 382.57a5.8 5.8 0 0 1 0 11.6z" fill="#0000ff"/><circle cx="214.82" cy="386.49" r="5.8" fill="#fff"/><path d="M214.82 380.69a5.8 5.8 0 0 1 0 11.6z" fill="#0000ff"/><circle cx="216.3" cy="384.6" r="5.8" fill="#fff"/><path d="M216.3 378.8a5.8 5.8 0 0 1 0 11.6z" fill="#0000ff"/><circle cx="217.76" cy="382.71" r="5.8" fill="#fff"/><path d="M217.76 376.91a5.8 5.8 0 0 1 0 11.6z" fill="#0000ff"/><circle cx="219.21" cy="380.81" r="5.8" fill="#fff"/><path d="M219.21 375.01a5.8 5.8 0 0 1 0 11.6z" fill="#0000ff"/><circle cx="220.65" cy="378.92" r="5.8" fill="#fff"/><path d="M220.65 373.12a5.8 5.8 0 0 1 0 11.6z" fill="#0000ff"/><circle cx="222.08" cy="377.03" r="5.8" fill="#fff"/><path d="M222.08 371.23a5.8 5.8 0 0 1 0 11.6z" fill="#0000ff"/><circle cx="223.49" cy="375.15" r="5.8" fill="#fff"/><path d="M223.49 369.35a5.8 5.8 0 0 1 0 11.6z" fill="#0000ff"/><circle cx="224.89" cy="373.27" r="5.8" fill="#fff"/><path d="M224.89 367.47a5.8 5.8 0 0 1 0 11.6z" fill="#0000ff"/><circle cx="226.28" cy="371.41" r="5.8" fill="#fff"/><path d="M226.28 365.61a5.8 5.8 0 0 1 0 11.6z" fill="#0000ff"/><circle cx="227.66" cy="369.55" r="5.8" fill="#fff"/><path d="M227.66 363.75a5.8 5.8 0 0 1 0 11.6z" fill="#0000ff"/><circle cx="229.02" cy="367.71" r="5.8" fill="#fff"/><path d="M229.02 361.91a5.8 5.8 0 0 1 0 11.6z" fill="#0000ff"/><circle cx="230.38" cy="365.88" r="5.8" fill="#fff"/><path d="M230.38 360.08a5.8 5.8 0 0 1 0 11.6z" fill="#0000ff"/><circle cx="231.73" cy="364.06" r="5.8" fill="#fff"/><path d="M231.73 358.26a5.8 5.8 0 0 1 0 11.6z" fill="#0000ff"/><circle cx="233.06" cy="362.25" r="5.8" fill="#fff"/><path d="M233.06 356.45a5.8 5.8 0 0 1 0 11.6z" fill="#0000ff"/><circle cx="234.39" cy="360.43" r="5.8" fill="#fff"/><path d="M234.39 354.63a5.8 5.8 0 0 1 0 11.6z" fill="#0000ff"/><circle cx="235.7" cy="358.63" r="5.8" fill="#fff"/><path d="M235.7 352.83a5.8 5.8 0 0 1 0 11.6z" fill="#0000ff"/><circle cx="237.01" cy="356.82" r="5.8" fill="#fff"/><path d="M237.01 351.02a5.8 5.8 0 0 1 0 11.6z" fill="#0000ff"/><circle cx="238.3" cy="355.02" r="5.8" fill="#fff"/><path d="M238.3 349.22a5.8 5.8 0 0 1 0 11.6z" fill="#0000ff"/><circle cx="239.59" cy="353.21" r="5.8" fill="#fff"/><path d="M239.59 347.41a5.8 5.8 0 0 1 0 11.6z" fill="#0000ff"/><circle cx="240.87" cy="351.41" r="5.8" fill="#fff"/><path d="M240.87 345.61a5.8 5.8 0 0 1 0 11.6z" fill="#0000ff"/><circle cx="242.14" cy="349.61" r="5.8" fill="#fff"/><path d="M242.14 343.81a5.8 5.8 0 0 1 0 11.6z" fill="#0000ff"/><circle cx="243.4" cy="347.81" r="5.8" fill="#fff"/><path d="M243.4 342.01a5.8 5.8 0 0 1 0 11.6z" fill="#0000ff"/><circle cx="244.65" cy="346" r="5.8" fill="#fff"/><path d="M244.65 340.2a5.8 5.8 0 0 1 0 11.6z" fill="#0000ff"/><circle cx="245.89" cy="344.19" r="5.8" fill="#fff"/><path d="M245.89 338.39a5.8 5.8 0 0 1 0 11.6z" fill="#0000ff"/><circle cx="247.13" cy="342.38" r="5.8" fill="#fff"/><path d="M247.13 336.58a5.8 5.8 0 0 1 0 11.6z" fill="#0000ff"/><circle cx="248.35" cy="340.57" r="5.8" fill="#fff"/><path d="M248.35 334.77a5.8 5.8 0 0 1 0 11.6z" fill="#0000ff"/><circle cx="249.57" cy="338.75" r="5.8" fill="#fff"/><path d="M249.57 332.95a5.8 5.8 0 0 1 0 11.6z" fill="#0000ff"/><circle cx="250.79" cy="336.92" r="5.8" fill="#fff"/><path d="M250.79 331.12a5.8 5.8 0 0 1 0 11.6z" fill="#0000ff"/><circle cx="251.99" cy="335.09" r="5.8" fill="#fff"/><path d="M251.99 329.29a5.8 5.8 0 0 1 0 11.6z" fill="#0000ff"/><circle cx="253.19" cy="333.26" r="5.8" fill="#fff"/><path d="M253.19 327.46a5.8 5.8 0 0 1 0 11.6z" fill="#0000ff"/><circle cx="254.38" cy="331.42" r="5.8" fill="#fff"/><path d="M254.38 325.62a5.8 5.8 0 0 1 0 11.6z" fill="#0000ff"/><circle cx="255.56" cy="329.57" r="5.8" fill="#fff"/><path d="M255.56 323.77a5.8 5.8 0 0 1 0 11.6z" fill="#0000ff"/><circle cx="256.73" cy="327.71" r="5.8" fill="#fff"/><path d="M256.73 321.91a5.8 5.8 0 0 1 0 11.6z" fill="#0000ff"/><circle cx="257.9" cy="325.84" r="5.8" fill="#fff"/><path d="M257.9 320.04a5.8 5.8 0 0 1 0 11.6z" fill="#0000ff"/><circle cx="259.06" cy="323.96" r="5.8" fill="#fff"/><path d="M259.06 318.16a5.8 5.8 0 0 1 0 11.6z" fill="#0000ff"/><circle cx="260.22" cy="322.06" r="5.8" fill="#fff"/><path d="M260.22 316.26a5.8 5.8 0 0 1 0 11.6z" fill="#0000ff"/><circle cx="261.37" cy="320.14" r="5.8" fill="#fff"/><path d="M261.37 314.34a5.8 5.8 0 0 1 0 11.6z" fill="#0000ff"/><circle cx="262.51" cy="318.22" r="5.8" fill="#fff"/><path d="M262.51 312.42a5.8 5.8 0 0 1 0 11.6z" fill="#0000ff"/><circle cx="263.65" cy="316.29" r="5.8" fill="#fff"/><path d="M263.65 310.49a5.8 5.8 0 0 1 0 11.6z" fill="#0000ff"/><circle cx="264.78" cy="314.35" r="5.8" fill="#fff"/><path d="M264.78 308.55a5.8 5.8 0 0 1 0 11.6z" fill="#0000ff"/><circle cx="265.9" cy="312.4" r="5.8" fill="#fff"/><path d="M265.9 306.6a5.8 5.8 0 0 1 0 11.6z" fill="#0000ff"/><circle cx="267.02" cy="310.44" r="5.8" fill="#fff"/><path d="M267.02 304.64a5.8 5.8 0 0 1 0 11.6z" fill="#0000ff"/><circle cx="268.13" cy="308.47" r="5.8" fill="#fff"/><path d="M268.13 302.67a5.8 5.8 0 0 1 0 11.6z" fill="#0000ff"/><circle cx="269.23" cy="306.51" r="5.8" fill="#fff"/><path d="M269.23 300.71a5.8 5.8 0 0 1 0 11.6z" fill="#0000ff"/><circle cx="270.33" cy="304.53" r="5.8" fill="#fff"/><path d="M270.33 298.73a5.8 5.8 0 0 1 0 11.6z" fill="#0000ff"/><circle cx="271.43" cy="302.56" r="5.8" fill="#fff"/><path d="M271.43 296.76a5.8 5.8 0 0 1 0 11.6z" fill="#0000ff"/><circle cx="272.52" cy="300.58" r="5.8" fill="#fff"/><path d="M272.52 294.78a5.8 5.8 0 0 1 0 11.6z" fill="#0000ff"/><circle cx="273.6" cy="298.6" r="5.8" fill="#fff"/><path d="M273.6 292.8a5.8 5.8 0 0 1 0 11.6z" fill="#0000ff"/></g>
<line x1="207.9" y1="394.8" x2="282.1" y2="293.8" stroke="#000" stroke-width="2.9" stroke-linecap="butt"/>
<rect x="58" y="283" width="246.5" height="219.7" fill="none" stroke="#000" stroke-width="2.4"/>
<path d="M58 300.9h5M58 342.2h5M58 383.5h5M58 424.8h5M58 466.1h5" stroke="#000" stroke-width="2" fill="none"/>
<path d="M90.5 502.7v-5M123.5 502.7v-5M156.5 502.7v-5M189.5 502.7v-5M222.5 502.7v-5M255.5 502.7v-5M288.5 502.7v-5" stroke="#000" stroke-width="2" fill="none"/>
<text transform="translate(53.2 305.3)" font-size="12.6" text-anchor="end">-20.96</text>
<text transform="translate(53.2 346.6)" font-size="12.6" text-anchor="end">-21.04</text>
<text transform="translate(53.2 387.9)" font-size="12.6" text-anchor="end">-21.12</text>
<text transform="translate(53.2 429.2)" font-size="12.6" text-anchor="end">-21.20</text>
<text transform="translate(53.2 470.5)" font-size="12.6" text-anchor="end">-21.28</text>
<text transform="translate(57.5 517.7) scale(1 1.07)" font-size="12.2" class="k" text-anchor="middle">0</text>
<text transform="translate(90.5 517.7) scale(1 1.07)" font-size="12.2" class="k" text-anchor="middle">100</text>
<text transform="translate(123.5 517.7) scale(1 1.07)" font-size="12.2" class="k" text-anchor="middle">200</text>
<text transform="translate(156.5 517.7) scale(1 1.07)" font-size="12.2" class="k" text-anchor="middle">300</text>
<text transform="translate(189.5 517.7) scale(1 1.07)" font-size="12.2" class="k" text-anchor="middle">400</text>
<text transform="translate(222.5 517.7) scale(1 1.07)" font-size="12.2" class="k" text-anchor="middle">500</text>
<text transform="translate(255.5 517.7) scale(1 1.07)" font-size="12.2" class="k" text-anchor="middle">600</text>
<text transform="translate(288.5 517.7) scale(1 1.07)" font-size="12.2" class="k" text-anchor="middle">700</text>
<text transform="translate(14 398.5) rotate(-90)" font-size="13.4" class="k" text-anchor="middle">ln(J/E) (A/cm<tspan font-size="7.5" dy="-6">2</tspan><tspan dy="6">)</tspan></text>
<text transform="translate(148.6 536) scale(0.902 1)" font-size="13.6" class="k">E<tspan font-size="7.8" dy="-7">1/2</tspan><tspan dy="7">(V/cm)</tspan><tspan font-size="7.8" dy="-7">1/2</tspan></text>
<text transform="translate(67 313.8)" font-size="20">(c)</text>
<text transform="translate(197.6 376.5) rotate(-50.7) scale(0.984 1.06)" font-size="15.2" class="k">S = 8.7194E-4</text>
<text transform="translate(220 414) scale(1 1.08)" font-size="12.2" class="k">PF Emission</text>
<text transform="translate(216 441) scale(1.008 1.1)" font-size="14" class="k">at 25<tspan font-size="8.3" dy="-6.5">0</tspan><tspan dy="6.5">C</tspan></text>
<text transform="translate(218 465.6) scale(1.015 1.04)" font-size="12.4" class="k">BFBST-Mn</text>
<text transform="translate(218 482.7) scale(0.999 1.04)" font-size="12.3" class="k">Linear Fit</text>
<circle cx="200.3" cy="461.8" r="3.4" fill="#fff" stroke="#0000ff" stroke-width="1.1"/><path d="M200.3 458.4a3.4 3.4 0 0 1 0 6.8z" fill="#0000ff"/>
<line x1="185" y1="478.4" x2="216" y2="478.4" stroke="#000" stroke-width="2.8" stroke-linecap="butt"/>
<g fill="#fff" stroke="#0000ff" stroke-width="1.6" stroke-linejoin="miter"><path d="M361.86 477.2L363.63 482.66L369.37 482.66L364.73 486.03L366.5 491.49L361.86 488.12L357.22 491.49L358.99 486.03L354.35 482.66L360.09 482.66Z"/><path d="M362.43 477.07L364.2 482.53L369.94 482.53L365.3 485.91L367.07 491.37L362.43 487.99L357.78 491.37L359.56 485.91L354.91 482.53L360.65 482.53Z"/><path d="M362.99 476.91L364.77 482.36L370.51 482.36L365.86 485.74L367.64 491.2L362.99 487.82L358.35 491.2L360.12 485.74L355.48 482.36L361.22 482.36Z"/><path d="M363.56 476.73L365.33 482.19L371.07 482.19L366.43 485.57L368.2 491.03L363.56 487.65L358.92 491.03L360.69 485.57L356.05 482.19L361.79 482.19Z"/><path d="M364.13 476.56L365.9 482.02L371.64 482.02L367 485.4L368.77 490.85L364.13 487.48L359.49 490.85L361.26 485.4L356.62 482.02L362.36 482.02Z"/><path d="M364.7 476.39L366.48 481.85L372.21 481.85L367.57 485.22L369.34 490.68L364.7 487.31L360.06 490.68L361.83 485.22L357.19 481.85L362.93 481.85Z"/><path d="M365.27 476.21L367.05 481.67L372.79 481.67L368.14 485.05L369.92 490.51L365.27 487.13L360.63 490.51L362.4 485.05L357.76 481.67L363.5 481.67Z"/><path d="M365.85 476.04L367.62 481.5L373.36 481.5L368.72 484.87L370.49 490.33L365.85 486.95L361.2 490.33L362.98 484.87L358.33 481.5L364.07 481.5Z"/><path d="M366.42 475.86L368.2 481.32L373.94 481.32L369.29 484.69L371.07 490.15L366.42 486.78L361.78 490.15L363.55 484.69L358.91 481.32L364.65 481.32Z"/><path d="M367 475.68L368.77 481.14L374.51 481.14L369.87 484.51L371.64 489.97L367 486.6L362.36 489.97L364.13 484.51L359.49 481.14L365.23 481.14Z"/><path d="M367.58 475.5L369.35 480.95L375.09 480.95L370.45 484.33L372.22 489.79L367.58 486.41L362.93 489.79L364.71 484.33L360.06 480.95L365.8 480.95Z"/><path d="M368.16 475.31L369.93 480.77L375.67 480.77L371.03 484.14L372.8 489.6L368.16 486.23L363.51 489.6L365.29 484.14L360.64 480.77L366.38 480.77Z"/><path d="M368.74 475.13L370.51 480.59L376.25 480.59L371.61 483.96L373.38 489.42L368.74 486.04L364.1 489.42L365.87 483.96L361.23 480.59L366.97 480.59Z"/><path d="M369.32 474.94L371.1 480.4L376.84 480.4L372.19 483.77L373.97 489.23L369.32 485.86L364.68 489.23L366.45 483.77L361.81 480.4L367.55 480.4Z"/><path d="M369.91 474.75L371.68 480.21L377.42 480.21L372.78 483.58L374.55 489.04L369.91 485.67L365.26 489.04L367.04 483.58L362.39 480.21L368.13 480.21Z"/><path d="M370.49 474.56L372.27 480.02L378 480.02L373.36 483.39L375.13 488.85L370.49 485.48L365.85 488.85L367.62 483.39L362.98 480.02L368.72 480.02Z"/><path d="M371.08 474.37L372.85 479.82L378.59 479.83L373.95 483.2L375.72 488.66L371.08 485.28L366.44 488.66L368.21 483.2L363.57 479.83L369.3 479.82Z"/><path d="M371.67 474.17L373.44 479.63L379.18 479.63L374.54 483L376.31 488.46L371.67 485.09L367.02 488.46L368.8 483L364.15 479.63L369.89 479.63Z"/><path d="M372.26 473.98L374.03 479.43L379.77 479.43L375.13 482.81L376.9 488.27L372.26 484.89L367.61 488.27L369.39 482.81L364.74 479.43L370.48 479.43Z"/><path d="M372.85 473.78L374.62 479.24L380.36 479.24L375.72 482.61L377.49 488.07L372.85 484.69L368.21 488.07L369.98 482.61L365.34 479.24L371.08 479.24Z"/><path d="M373.44 473.58L375.22 479.03L380.96 479.03L376.31 482.41L378.09 487.87L373.44 484.49L368.8 487.87L370.57 482.41L365.93 479.03L371.67 479.03Z"/><path d="M374.04 473.37L375.81 478.83L381.55 478.83L376.91 482.21L378.68 487.66L374.04 484.29L369.39 487.66L371.17 482.21L366.52 478.83L372.26 478.83Z"/><path d="M374.63 473.17L376.41 478.63L382.15 478.63L377.5 482L379.28 487.46L374.63 484.09L369.99 487.46L371.76 482L367.12 478.63L372.86 478.63Z"/><path d="M375.23 472.96L377.01 478.42L382.75 478.42L378.1 481.8L379.88 487.25L375.23 483.88L370.59 487.25L372.36 481.8L367.72 478.42L373.46 478.42Z"/><path d="M375.83 472.75L377.61 478.21L383.34 478.21L378.7 481.59L380.47 487.05L375.83 483.67L371.19 487.05L372.96 481.59L368.32 478.21L374.06 478.21Z"/><path d="M376.43 472.54L378.21 478L383.95 478L379.3 481.38L381.08 486.84L376.43 483.46L371.79 486.84L373.56 481.38L368.92 478L374.66 478Z"/><path d="M377.04 472.33L378.81 477.79L384.55 477.79L379.91 481.16L381.68 486.62L377.04 483.25L372.39 486.62L374.17 481.16L369.52 477.79L375.26 477.79Z"/><path d="M377.64 472.12L379.41 477.58L385.15 477.58L380.51 480.95L382.28 486.41L377.64 483.03L373 486.41L374.77 480.95L370.13 477.58L375.87 477.58Z"/><path d="M378.25 471.9L380.02 477.36L385.76 477.36L381.12 480.73L382.89 486.19L378.25 482.82L373.6 486.19L375.38 480.73L370.73 477.36L376.47 477.36Z"/><path d="M378.85 471.68L380.63 477.14L386.37 477.14L381.72 480.51L383.5 485.97L378.85 482.6L374.21 485.97L375.98 480.51L371.34 477.14L377.08 477.14Z"/><path d="M379.46 471.46L381.24 476.92L386.98 476.92L382.33 480.29L384.11 485.75L379.46 482.38L374.82 485.75L376.59 480.29L371.95 476.92L377.69 476.92Z"/><path d="M380.08 471.24L381.85 476.69L387.59 476.69L382.95 480.07L384.72 485.53L380.08 482.15L375.43 485.53L377.2 480.07L372.56 476.69L378.3 476.69Z"/><path d="M380.69 471.01L382.46 476.47L388.2 476.47L383.56 479.84L385.33 485.3L380.69 481.93L376.04 485.3L377.82 479.84L373.17 476.47L378.91 476.47Z"/><path d="M381.3 470.78L383.08 476.24L388.82 476.24L384.17 479.61L385.95 485.07L381.3 481.7L376.66 485.07L378.43 479.61L373.79 476.24L379.53 476.24Z"/><path d="M381.92 470.55L383.69 476.01L389.43 476.01L384.79 479.38L386.56 484.84L381.92 481.47L377.28 484.84L379.05 479.38L374.41 476.01L380.15 476.01Z"/><path d="M382.54 470.32L384.31 475.78L390.05 475.78L385.41 479.15L387.18 484.61L382.54 481.24L377.89 484.61L379.67 479.15L375.02 475.78L380.76 475.78Z"/><path d="M383.16 470.08L384.93 475.54L390.67 475.54L386.03 478.91L387.8 484.37L383.16 481L378.51 484.37L380.29 478.91L375.64 475.54L381.38 475.54Z"/><path d="M383.78 469.84L385.55 475.3L391.29 475.3L386.65 478.68L388.42 484.13L383.78 480.76L379.14 484.13L380.91 478.68L376.27 475.3L382.01 475.3Z"/><path d="M384.4 469.6L386.18 475.06L391.92 475.06L387.27 478.44L389.05 483.89L384.4 480.52L379.76 483.89L381.53 478.44L376.89 475.06L382.63 475.06Z"/><path d="M385.03 469.36L386.8 474.82L392.54 474.82L387.9 478.19L389.67 483.65L385.03 480.28L380.39 483.65L382.16 478.19L377.52 474.82L383.25 474.82Z"/><path d="M385.66 469.11L387.43 474.57L393.17 474.57L388.53 477.95L390.3 483.41L385.66 480.03L381.01 483.41L382.79 477.95L378.14 474.57L383.88 474.57Z"/><path d="M386.29 468.87L388.06 474.33L393.8 474.33L389.16 477.7L390.93 483.16L386.29 479.78L381.64 483.16L383.41 477.7L378.77 474.33L384.51 474.33Z"/><path d="M386.92 468.62L388.69 474.08L394.43 474.08L389.79 477.45L391.56 482.91L386.92 479.53L382.27 482.91L384.05 477.45L379.4 474.08L385.14 474.08Z"/><path d="M387.55 468.36L389.32 473.82L395.06 473.82L390.42 477.2L392.19 482.66L387.55 479.28L382.91 482.66L384.68 477.2L380.04 473.82L385.78 473.82Z"/><path d="M388.18 468.11L389.96 473.57L395.7 473.57L391.05 476.94L392.83 482.4L388.18 479.03L383.54 482.4L385.31 476.94L380.67 473.57L386.41 473.57Z"/><path d="M388.82 467.85L390.59 473.31L396.33 473.31L391.69 476.68L393.46 482.14L388.82 478.77L384.18 482.14L385.95 476.68L381.31 473.31L387.05 473.31Z"/><path d="M389.46 467.59L391.23 473.05L396.97 473.05L392.33 476.42L394.1 481.88L389.46 478.51L384.82 481.88L386.59 476.42L381.95 473.05L387.69 473.05Z"/><path d="M390.1 467.33L391.87 472.79L397.61 472.79L392.97 476.16L394.74 481.62L390.1 478.25L385.46 481.62L387.23 476.16L382.59 472.79L388.33 472.79Z"/><path d="M390.74 467.07L392.52 472.52L398.26 472.52L393.61 475.9L395.39 481.36L390.74 477.98L386.1 481.36L387.87 475.9L383.23 472.52L388.97 472.52Z"/><path d="M391.39 466.8L393.16 472.26L398.9 472.26L394.26 475.63L396.03 481.09L391.39 477.72L386.74 481.09L388.52 475.63L383.87 472.26L389.61 472.26Z"/><path d="M392.03 466.53L393.81 471.99L399.55 471.99L394.9 475.36L396.68 480.82L392.03 477.45L387.39 480.82L389.16 475.36L384.52 471.99L390.26 471.99Z"/><path d="M392.68 466.26L394.46 471.72L400.2 471.72L395.55 475.09L397.33 480.55L392.68 477.18L388.04 480.55L389.81 475.09L385.17 471.72L390.91 471.72Z"/><path d="M393.33 465.99L395.11 471.44L400.85 471.44L396.2 474.82L397.98 480.28L393.33 476.9L388.69 480.28L390.46 474.82L385.82 471.44L391.56 471.44Z"/><path d="M393.99 465.71L395.76 471.17L401.5 471.17L396.86 474.54L398.63 480L393.99 476.63L389.34 480L391.12 474.54L386.47 471.17L392.21 471.17Z"/><path d="M394.64 465.43L396.42 470.89L402.15 470.89L397.51 474.26L399.28 479.72L394.64 476.35L390 479.72L391.77 474.26L387.13 470.89L392.87 470.89Z"/><path d="M395.3 465.15L397.07 470.61L402.81 470.61L398.17 473.98L399.94 479.44L395.3 476.07L390.65 479.44L392.43 473.98L387.78 470.61L393.52 470.61Z"/><path d="M395.96 464.87L397.73 470.33L403.47 470.33L398.83 473.7L400.6 479.16L395.96 475.79L391.31 479.16L393.09 473.7L388.44 470.33L394.18 470.33Z"/><path d="M396.62 464.59L398.39 470.04L404.13 470.04L399.49 473.42L401.26 478.88L396.62 475.5L391.98 478.88L393.75 473.42L389.11 470.04L394.85 470.04Z"/><path d="M397.28 464.3L399.06 469.76L404.8 469.76L400.15 473.13L401.93 478.59L397.28 475.22L392.64 478.59L394.41 473.13L389.77 469.76L395.51 469.76Z"/><path d="M397.95 464.01L399.72 469.47L405.46 469.47L400.82 472.84L402.59 478.3L397.95 474.93L393.3 478.3L395.08 472.84L390.43 469.47L396.17 469.47Z"/><path d="M398.62 463.72L400.39 469.18L406.13 469.18L401.49 472.55L403.26 478.01L398.62 474.64L393.97 478.01L395.75 472.55L391.1 469.18L396.84 469.18Z"/><path d="M399.29 463.42L401.06 468.88L406.8 468.88L402.16 472.26L403.93 477.72L399.29 474.34L394.64 477.72L396.42 472.26L391.77 468.88L397.51 468.88Z"/><path d="M399.96 463.13L401.73 468.59L407.47 468.59L402.83 471.96L404.6 477.42L399.96 474.05L395.32 477.42L397.09 471.96L392.45 468.59L398.18 468.59Z"/><path d="M400.63 462.83L402.41 468.29L408.15 468.29L403.5 471.66L405.28 477.12L400.63 473.75L395.99 477.12L397.76 471.66L393.12 468.29L398.86 468.29Z"/><path d="M401.31 462.53L403.08 467.99L408.82 467.99L404.18 471.36L405.95 476.82L401.31 473.45L396.67 476.82L398.44 471.36L393.8 467.99L399.54 467.99Z"/><path d="M401.99 462.23L403.76 467.69L409.5 467.69L404.86 471.06L406.63 476.52L401.99 473.15L397.35 476.52L399.12 471.06L394.48 467.69L400.22 467.69Z"/><path d="M402.67 461.93L404.45 467.39L410.19 467.39L405.54 470.76L407.32 476.22L402.67 472.84L398.03 476.22L399.8 470.76L395.16 467.39L400.9 467.39Z"/><path d="M403.36 461.62L405.13 467.08L410.87 467.08L406.23 470.45L408 475.91L403.36 472.54L398.71 475.91L400.49 470.45L395.84 467.08L401.58 467.08Z"/><path d="M404.04 461.31L405.82 466.77L411.56 466.77L406.91 470.15L408.69 475.6L404.04 472.23L399.4 475.6L401.17 470.15L396.53 466.77L402.27 466.77Z"/><path d="M404.73 461L406.51 466.46L412.24 466.46L407.6 469.84L409.38 475.29L404.73 471.92L400.09 475.29L401.86 469.84L397.22 466.46L402.96 466.46Z"/><path d="M405.42 460.69L407.2 466.15L412.94 466.15L408.29 469.52L410.07 474.98L405.42 471.61L400.78 474.98L402.55 469.52L397.91 466.15L403.65 466.15Z"/><path d="M406.12 460.38L407.89 465.84L413.63 465.84L408.99 469.21L410.76 474.67L406.12 471.3L401.47 474.67L403.25 469.21L398.6 465.84L404.34 465.84Z"/><path d="M406.81 460.06L408.59 465.52L414.33 465.52L409.68 468.89L411.46 474.35L406.81 470.98L402.17 474.35L403.94 468.89L399.3 465.52L405.04 465.52Z"/><path d="M407.51 459.74L409.29 465.2L415.03 465.2L410.38 468.58L412.16 474.04L407.51 470.66L402.87 474.04L404.64 468.58L400 465.2L405.74 465.2Z"/><path d="M408.21 459.42L409.99 464.88L415.73 464.88L411.08 468.26L412.86 473.72L408.21 470.34L403.57 473.72L405.34 468.26L400.7 464.88L406.44 464.88Z"/><path d="M408.92 459.1L410.69 464.56L416.43 464.56L411.79 467.94L413.56 473.39L408.92 470.02L404.27 473.39L406.05 467.94L401.41 464.56L407.14 464.56Z"/><path d="M409.63 458.78L411.4 464.24L417.14 464.24L412.5 467.61L414.27 473.07L409.63 469.7L404.98 473.07L406.76 467.61L402.11 464.24L407.85 464.24Z"/><path d="M410.33 458.45L412.11 463.91L417.85 463.91L413.2 467.29L414.98 472.75L410.33 469.37L405.69 472.75L407.46 467.29L402.82 463.91L408.56 463.91Z"/><path d="M411.05 458.13L412.82 463.58L418.56 463.58L413.92 466.96L415.69 472.42L411.05 469.04L406.4 472.42L408.18 466.96L403.53 463.58L409.27 463.58Z"/><path d="M411.76 457.79L413.54 463.25L419.28 463.25L414.63 466.63L416.41 472.09L411.76 468.71L407.12 472.09L408.89 466.63L404.25 463.25L409.99 463.25Z"/><path d="M412.48 457.46L414.25 462.92L419.99 462.92L415.35 466.29L417.12 471.75L412.48 468.38L407.84 471.75L409.61 466.29L404.97 462.92L410.71 462.92Z"/><path d="M413.2 457.12L414.97 462.58L420.71 462.58L416.07 465.95L417.84 471.41L413.2 468.04L408.56 471.41L410.33 465.95L405.69 462.58L411.43 462.58Z"/><path d="M413.92 456.78L415.7 462.24L421.44 462.24L416.79 465.61L418.57 471.07L413.92 467.7L409.28 471.07L411.05 465.61L406.41 462.24L412.15 462.24Z"/><path d="M414.65 456.44L416.42 461.9L422.16 461.9L417.52 465.27L419.29 470.73L414.65 467.36L410.01 470.73L411.78 465.27L407.14 461.9L412.88 461.9Z"/><path d="M415.38 456.09L417.15 461.55L422.89 461.55L418.25 464.92L420.02 470.38L415.38 467.01L410.73 470.38L412.51 464.92L407.87 461.55L413.6 461.55Z"/><path d="M416.11 455.74L417.88 461.2L423.62 461.2L418.98 464.57L420.75 470.03L416.11 466.66L411.47 470.03L413.24 464.57L408.6 461.2L414.34 461.2Z"/><path d="M416.85 455.39L418.62 460.85L424.36 460.85L419.72 464.22L421.49 469.68L416.85 466.3L412.2 469.68L413.98 464.22L409.33 460.85L415.07 460.85Z"/><path d="M417.58 455.03L419.36 460.49L425.1 460.49L420.45 463.86L422.23 469.32L417.58 465.95L412.94 469.32L414.71 463.86L410.07 460.49L415.81 460.49Z"/><path d="M418.32 454.67L420.1 460.13L425.84 460.13L421.19 463.5L422.97 468.96L418.32 465.59L413.68 468.96L415.45 463.5L410.81 460.13L416.55 460.13Z"/><path d="M419.07 454.31L420.84 459.77L426.58 459.77L421.94 463.14L423.71 468.6L419.07 465.23L414.42 468.6L416.2 463.14L411.55 459.77L417.29 459.77Z"/><path d="M419.82 453.94L421.59 459.4L427.33 459.4L422.69 462.77L424.46 468.23L419.82 464.86L415.17 468.23L416.95 462.77L412.3 459.4L418.04 459.4Z"/><path d="M420.57 453.57L422.34 459.03L428.08 459.03L423.44 462.41L425.21 467.86L420.57 464.49L415.92 467.86L417.7 462.41L413.05 459.03L418.79 459.03Z"/><path d="M421.32 453.2L423.09 458.66L428.83 458.66L424.19 462.03L425.96 467.49L421.32 464.12L416.68 467.49L418.45 462.03L413.81 458.66L419.55 458.66Z"/><path d="M422.08 452.83L423.85 458.28L429.59 458.28L424.95 461.66L426.72 467.12L422.08 463.74L417.43 467.12L419.21 461.66L414.56 458.28L420.3 458.28Z"/><path d="M422.84 452.45L424.61 457.91L430.35 457.91L425.71 461.28L427.48 466.74L422.84 463.36L418.19 466.74L419.97 461.28L415.32 457.91L421.06 457.91Z"/><path d="M423.6 452.06L425.37 457.52L431.11 457.52L426.47 460.9L428.24 466.36L423.6 462.98L418.96 466.36L420.73 460.9L416.09 457.52L421.83 457.52Z"/><path d="M424.37 451.68L426.14 457.14L431.88 457.14L427.24 460.51L429.01 465.97L424.37 462.6L419.72 465.97L421.5 460.51L416.85 457.14L422.59 457.14Z"/><path d="M425.14 451.29L426.91 456.75L432.65 456.75L428.01 460.12L429.78 465.58L425.14 462.21L420.49 465.58L422.27 460.12L417.62 456.75L423.36 456.75Z"/><path d="M425.91 450.9L427.68 456.36L433.42 456.36L428.78 459.73L430.55 465.19L425.91 461.82L421.27 465.19L423.04 459.73L418.4 456.36L424.14 456.36Z"/><path d="M426.69 450.5L428.46 455.96L434.2 455.96L429.56 459.34L431.33 464.8L426.69 461.42L422.04 464.8L423.82 459.34L419.17 455.96L424.91 455.96Z"/><path d="M427.47 450.11L429.24 455.57L434.98 455.57L430.34 458.94L432.11 464.4L427.47 461.02L422.82 464.4L424.6 458.94L419.95 455.57L425.69 455.57Z"/><path d="M428.25 449.71L430.02 455.16L435.76 455.16L431.12 458.54L432.89 464L428.25 460.62L423.61 464L425.38 458.54L420.74 455.16L426.48 455.16Z"/><path d="M429.04 449.3L430.81 454.76L436.55 454.76L431.91 458.13L433.68 463.59L429.04 460.22L424.39 463.59L426.17 458.13L421.52 454.76L427.26 454.76Z"/><path d="M429.83 448.89L431.6 454.35L437.34 454.35L432.7 457.72L434.47 463.18L429.83 459.81L425.19 463.18L426.96 457.72L422.32 454.35L428.06 454.35Z"/><path d="M430.62 448.48L432.4 453.94L438.14 453.94L433.49 457.31L435.27 462.77L430.62 459.4L425.98 462.77L427.75 457.31L423.11 453.94L428.85 453.94Z"/><path d="M431.42 448.07L433.2 453.52L438.94 453.53L434.29 456.9L436.07 462.36L431.42 458.98L426.78 462.36L428.55 456.9L423.91 453.53L429.65 453.52Z"/><path d="M432.23 447.65L434 453.11L439.74 453.11L435.1 456.48L436.87 461.94L432.23 458.57L427.58 461.94L429.36 456.48L424.71 453.11L430.45 453.11Z"/><path d="M433.03 447.23L434.81 452.69L440.55 452.69L435.9 456.06L437.68 461.52L433.03 458.14L428.39 461.52L430.16 456.06L425.52 452.69L431.26 452.69Z"/><path d="M433.84 446.8L435.62 452.26L441.36 452.26L436.71 455.64L438.49 461.09L433.84 457.72L429.2 461.09L430.97 455.64L426.33 452.26L432.07 452.26Z"/><path d="M434.66 446.37L436.43 451.83L442.17 451.83L437.53 455.21L439.3 460.67L434.66 457.29L430.01 460.67L431.79 455.21L427.14 451.83L432.88 451.83Z"/><path d="M436.3 445.51L438.07 450.97L443.81 450.97L439.17 454.34L440.94 459.8L436.3 456.43L431.66 459.8L433.43 454.34L428.79 450.97L434.53 450.97Z"/><path d="M437.96 444.63L439.73 450.09L445.47 450.09L440.83 453.46L442.6 458.92L437.96 455.55L433.32 458.92L435.09 453.46L430.45 450.09L436.18 450.09Z"/><path d="M439.63 443.74L441.41 449.19L447.15 449.19L442.5 452.57L444.28 458.03L439.63 454.65L434.99 458.03L436.76 452.57L432.12 449.19L437.86 449.19Z"/><path d="M441.33 442.83L443.1 448.29L448.84 448.29L444.2 451.66L445.97 457.12L441.33 453.75L436.68 457.12L438.46 451.66L433.81 448.29L439.55 448.29Z"/><path d="M443.04 441.91L444.81 447.37L450.55 447.37L445.91 450.74L447.68 456.2L443.04 452.83L438.4 456.2L440.17 450.74L435.53 447.37L441.27 447.37Z"/><path d="M444.77 440.97L446.55 446.43L452.29 446.43L447.64 449.81L449.42 455.27L444.77 451.89L440.13 455.27L441.9 449.81L437.26 446.43L443 446.43Z"/><path d="M446.52 440.02L448.3 445.48L454.04 445.48L449.39 448.86L451.17 454.31L446.52 450.94L441.88 454.31L443.65 448.86L439.01 445.48L444.75 445.48Z"/><path d="M448.29 439.06L450.07 444.51L455.81 444.51L451.16 447.89L452.94 453.35L448.29 449.97L443.65 453.35L445.42 447.89L440.78 444.51L446.52 444.51Z"/><path d="M450.09 438.07L451.86 443.53L457.6 443.53L452.96 446.9L454.73 452.36L450.09 448.99L445.44 452.36L447.22 446.9L442.57 443.53L448.31 443.53Z"/><path d="M451.9 437.06L453.68 442.52L459.42 442.52L454.77 445.89L456.55 451.35L451.9 447.98L447.26 451.35L449.03 445.89L444.39 442.52L450.13 442.52Z"/><path d="M453.74 436.03L455.51 441.49L461.25 441.49L456.61 444.86L458.38 450.32L453.74 446.95L449.1 450.32L450.87 444.86L446.23 441.49L451.97 441.49Z"/><path d="M455.6 434.98L457.38 440.44L463.12 440.44L458.47 443.81L460.25 449.27L455.6 445.9L450.96 449.27L452.73 443.81L448.09 440.44L453.83 440.44Z"/><path d="M457.49 433.9L459.26 439.36L465 439.36L460.36 442.73L462.13 448.19L457.49 444.82L452.84 448.19L454.62 442.73L449.97 439.36L455.71 439.36Z"/><path d="M459.4 432.79L461.17 438.25L466.91 438.25L462.27 441.62L464.04 447.08L459.4 443.71L454.76 447.08L456.53 441.62L451.89 438.25L457.63 438.25Z"/><path d="M461.34 431.65L463.11 437.11L468.85 437.11L464.21 440.48L465.98 445.94L461.34 442.57L456.7 445.94L458.47 440.48L453.83 437.11L459.56 437.11Z"/><path d="M463.31 430.48L465.08 435.94L470.82 435.94L466.18 439.31L467.95 444.77L463.31 441.4L458.66 444.77L460.43 439.31L455.79 435.94L461.53 435.94Z"/><path d="M465.3 429.27L467.07 434.73L472.81 434.73L468.17 438.1L469.94 443.56L465.3 440.19L460.66 443.56L462.43 438.1L457.79 434.73L463.53 434.73Z"/><path d="M467.33 428.02L469.1 433.48L474.84 433.48L470.2 436.86L471.97 442.32L467.33 438.94L462.68 442.32L464.46 436.86L459.81 433.48L465.55 433.48Z"/><path d="M469.38 426.74L471.16 432.19L476.9 432.19L472.25 435.57L474.03 441.03L469.38 437.65L464.74 441.03L466.51 435.57L461.87 432.19L467.61 432.19Z"/><path d="M471.48 425.4L473.25 430.86L478.99 430.86L474.35 434.24L476.12 439.69L471.48 436.32L466.83 439.69L468.61 434.24L463.96 430.86L469.7 430.86Z"/><path d="M473.6 424.03L475.38 429.49L481.12 429.49L476.47 432.86L478.25 438.32L473.6 434.94L468.96 438.32L470.73 432.86L466.09 429.49L471.83 429.49Z"/><path d="M475.77 422.6L477.54 428.06L483.28 428.06L478.64 431.44L480.41 436.89L475.77 433.52L471.12 436.89L472.9 431.44L468.25 428.06L473.99 428.06Z"/><path d="M477.97 421.13L479.74 426.59L485.48 426.59L480.84 429.96L482.61 435.42L477.97 432.05L473.33 435.42L475.1 429.96L470.46 426.59L476.2 426.59Z"/><path d="M480.21 419.6L481.99 425.06L487.73 425.06L483.08 428.44L484.86 433.9L480.21 430.52L475.57 433.9L477.34 428.44L472.7 425.06L478.44 425.06Z"/><path d="M482.5 418.02L484.27 423.48L490.01 423.48L485.37 426.85L487.14 432.31L482.5 428.94L477.86 432.31L479.63 426.85L474.99 423.48L480.73 423.48Z"/><path d="M484.83 416.38L486.61 421.84L492.35 421.84L487.7 425.21L489.48 430.67L484.83 427.3L480.19 430.67L481.96 425.21L477.32 421.84L483.06 421.84Z"/><path d="M487.22 414.67L488.99 420.13L494.73 420.13L490.09 423.51L491.86 428.97L487.22 425.59L482.57 428.97L484.35 423.51L479.7 420.13L485.44 420.13Z"/><path d="M489.65 412.9L491.43 418.36L497.16 418.36L492.52 421.73L494.29 427.19L489.65 423.82L485.01 427.19L486.78 421.73L482.14 418.36L487.88 418.36Z"/><path d="M492.14 411.05L493.92 416.51L499.66 416.51L495.01 419.89L496.79 425.34L492.14 421.97L487.5 425.34L489.27 419.89L484.63 416.51L490.37 416.51Z"/><path d="M494.69 409.13L496.47 414.59L502.21 414.59L497.56 417.96L499.34 423.42L494.69 420.04L490.05 423.42L491.82 417.96L487.18 414.59L492.92 414.59Z"/><path d="M497.31 407.11L499.08 412.57L504.82 412.57L500.18 415.95L501.95 421.41L497.31 418.03L492.67 421.41L494.44 415.95L489.8 412.57L495.54 412.57Z"/><path d="M500 405.01L501.77 410.47L507.51 410.47L502.87 413.84L504.64 419.3L500 415.93L495.35 419.3L497.12 413.84L492.48 410.47L498.22 410.47Z"/><path d="M502.76 402.79L504.53 408.25L510.27 408.25L505.63 411.63L507.4 417.09L502.76 413.71L498.11 417.09L499.89 411.63L495.24 408.25L500.98 408.25Z"/><path d="M505.6 400.44L507.37 405.9L513.11 405.9L508.47 409.28L510.24 414.73L505.6 411.36L500.96 414.73L502.73 409.28L498.09 405.9L503.83 405.9Z"/><path d="M508.53 397.92L510.31 403.38L516.05 403.38L511.4 406.75L513.18 412.21L508.53 408.84L503.89 412.21L505.66 406.75L501.02 403.38L506.76 403.38Z"/><path d="M511.57 395.19L513.34 400.65L519.08 400.65L514.44 404.02L516.21 409.48L511.57 406.1L506.92 409.48L508.7 404.02L504.05 400.65L509.79 400.65Z"/><path d="M514.71 392.19L516.49 397.65L522.23 397.65L517.58 401.03L519.36 406.48L514.71 403.11L510.07 406.48L511.84 401.03L507.2 397.65L512.94 397.65Z"/><path d="M517.98 388.85L519.75 394.31L525.49 394.31L520.85 397.69L522.62 403.14L517.98 399.77L513.34 403.14L515.11 397.69L510.47 394.31L516.21 394.31Z"/><path d="M521.39 385.13L523.16 390.59L528.9 390.59L524.26 393.97L526.03 399.43L521.39 396.05L516.74 399.43L518.52 393.97L513.87 390.59L519.61 390.59Z"/><path d="M524.95 381.05L526.73 386.51L532.46 386.51L527.82 389.88L529.59 395.34L524.95 391.97L520.31 395.34L522.08 389.88L517.44 386.51L523.18 386.51Z"/><path d="M528.7 376.62L530.47 382.08L536.21 382.08L531.57 385.45L533.34 390.91L528.7 387.53L524.06 390.91L525.83 385.45L521.19 382.08L526.93 382.08Z"/><path d="M532.66 371.86L534.44 377.32L540.18 377.32L535.53 380.7L537.31 386.15L532.66 382.78L528.02 386.15L529.79 380.7L525.15 377.32L530.89 377.32Z"/><path d="M536.88 366.73L538.66 372.19L544.4 372.19L539.75 375.56L541.53 381.02L536.88 377.65L532.24 381.02L534.01 375.56L529.37 372.19L535.11 372.19Z"/><path d="M541.42 360.7L543.19 366.16L548.93 366.16L544.29 369.53L546.06 374.99L541.42 371.61L536.77 374.99L538.55 369.53L533.9 366.16L539.64 366.16Z"/><path d="M546.35 353.27L548.12 358.73L553.86 358.73L549.22 362.1L550.99 367.56L546.35 364.19L541.7 367.56L543.48 362.1L538.83 358.73L544.57 358.73Z"/><path d="M551.8 343.82L553.57 349.28L559.31 349.28L554.67 352.66L556.44 358.11L551.8 354.74L547.16 358.11L548.93 352.66L544.29 349.28L550.03 349.28Z"/><path d="M557.99 332.01L559.76 337.47L565.5 337.47L560.86 340.85L562.63 346.31L557.99 342.93L553.35 346.31L555.12 340.85L550.48 337.47L556.22 337.47Z"/><path d="M565.33 315.3L567.11 320.76L572.85 320.76L568.2 324.13L569.98 329.59L565.33 326.22L560.69 329.59L562.46 324.13L557.82 320.76L563.56 320.76Z"/><path d="M574.9 293.32L576.67 298.78L582.41 298.78L577.77 302.16L579.54 307.62L574.9 304.24L570.26 307.62L572.03 302.16L567.39 298.78L573.13 298.78Z"/></g>
<line x1="514.9" y1="408.1" x2="580.7" y2="298.6" stroke="#000" stroke-width="3" stroke-linecap="butt"/>
<rect x="349" y="283.8" width="248.7" height="216.5" fill="none" stroke="#000" stroke-width="2.4"/>
<path d="M349 313.2h5M349 355.05h5M349 396.9h5M349 438.75h5M349 480.6h5" stroke="#000" stroke-width="2" fill="none"/>
<path d="M391 500.3v-5M432.4 500.3v-5M473.8 500.3v-5M515.2 500.3v-5M556.6 500.3v-5" stroke="#000" stroke-width="2" fill="none"/>
<text transform="translate(344.7 317.7)" font-size="12.9" text-anchor="end">-13</text>
<text transform="translate(344.7 359.55)" font-size="12.9" text-anchor="end">-14</text>
<text transform="translate(344.7 401.4)" font-size="12.9" text-anchor="end">-15</text>
<text transform="translate(344.7 443.25)" font-size="12.9" text-anchor="end">-16</text>
<text transform="translate(344.7 485.1)" font-size="12.9" text-anchor="end">-17</text>
<text transform="translate(349.6 516) scale(1 1.04)" font-size="12.8" class="k" text-anchor="middle">-600</text>
<text transform="translate(391 516) scale(1 1.04)" font-size="12.8" class="k" text-anchor="middle">-500</text>
<text transform="translate(432.4 516) scale(1 1.04)" font-size="12.8" class="k" text-anchor="middle">-400</text>
<text transform="translate(473.8 516) scale(1 1.04)" font-size="12.8" class="k" text-anchor="middle">-300</text>
<text transform="translate(515.2 516) scale(1 1.04)" font-size="12.8" class="k" text-anchor="middle">-200</text>
<text transform="translate(556.6 516) scale(1 1.04)" font-size="12.8" class="k" text-anchor="middle">-100</text>
<text transform="translate(598 516) scale(1 1.04)" font-size="12.8" class="k" text-anchor="middle">0</text>
<text transform="translate(322.2 400.5) rotate(-90)" font-size="13.4" class="k" text-anchor="middle">ln(J/E) (A/cm<tspan font-size="7.5" dy="-6">2</tspan><tspan dy="6">)</tspan></text>
<text transform="translate(431.4 536) scale(0.942 1)" font-size="13.6" class="k">E<tspan font-size="7.8" dy="-7">1/2</tspan><tspan dy="7">(V/cm)</tspan><tspan font-size="7.8" dy="-7">1/2</tspan></text>
<text transform="translate(362 313)" font-size="20">(d)</text>
<text transform="translate(432.3 428.5) rotate(-31)" font-size="14.9" class="k">S = 0.01656</text>
<text transform="translate(362.5 350) scale(1.007 1)" font-size="14.5" class="k">at 25<tspan font-size="8.5" dy="-6.5">0</tspan><tspan dy="6.5">C</tspan></text>
<text transform="translate(357.3 374.2) scale(0.992 1)" font-size="12.5" class="k">PF Emission</text>
<text transform="translate(535.3 471.6) scale(0.99 1.05)" font-size="12.6" class="k">BFBST-0</text>
<text transform="translate(535.3 487.8) scale(0.995 1.03)" font-size="12.8" class="k">Linear Fit</text>
<path d="M517 462.8L517.94 465.7L520.99 465.7L518.53 467.5L519.47 470.4L517 468.6L514.53 470.4L515.47 467.5L513.01 465.7L516.06 465.7Z" fill="none" stroke="#0000ff" stroke-width="1"/>
<line x1="502" y1="483" x2="532.5" y2="483" stroke="#000" stroke-width="3.2" stroke-linecap="butt"/>
<line x1="188" y1="594.9" x2="434.6" y2="776.6" stroke="#000" stroke-width="2.2" stroke-linecap="butt"/>
<line x1="206.2" y1="582.4" x2="432.1" y2="740.9" stroke="#000" stroke-width="2.2" stroke-linecap="butt"/>
<line x1="230.4" y1="574.2" x2="430.4" y2="714" stroke="#000" stroke-width="2.2" stroke-linecap="butt"/>
<g fill="none" stroke="#000" stroke-width="1.8"><circle cx="205.7" cy="602.8" r="4.9"/><circle cx="225.6" cy="621.8" r="4.9"/><circle cx="248" cy="641.7" r="4.9"/><circle cx="272.7" cy="658.4" r="4.9"/><circle cx="299.8" cy="682.9" r="4.9"/><circle cx="332.5" cy="705.3" r="4.9"/><circle cx="369.8" cy="731" r="4.9"/><circle cx="413.4" cy="755.1" r="4.9"/><path d="M221.6 590.1L232.6 596.1L221.6 602.1Z"/><path d="M244 605.8L255 611.8L244 617.8Z"/><path d="M269 622.5L280 628.5L269 634.5Z"/><path d="M296.4 644.9L307.4 650.9L296.4 656.9Z"/><path d="M328 671.4L339 677.4L328 683.4Z"/><path d="M366.6 694.3L377.6 700.3L366.6 706.3Z"/><path d="M410.2 718.2L421.2 724.2L410.2 730.2Z"/><path d="M239.9 584.1h14.8M247.3 576.7v14.8M242 578.8l10.6 10.6M242 589.4l10.6 -10.6"/><path d="M264.3 601.8h14.8M271.7 594.4v14.8M266.4 596.5l10.6 10.6M266.4 607.1l10.6 -10.6"/><path d="M292.7 626h14.8M300.1 618.6v14.8M294.8 620.7l10.6 10.6M294.8 631.3l10.6 -10.6"/><path d="M324.6 649.7h14.8M332 642.3v14.8M326.7 644.4l10.6 10.6M326.7 655l10.6 -10.6"/><path d="M362.4 674.4h14.8M369.8 667v14.8M364.5 669.1l10.6 10.6M364.5 679.7l10.6 -10.6"/><path d="M406 698.6h14.8M413.4 691.2v14.8M408.1 693.3l10.6 10.6M408.1 703.9l10.6 -10.6"/></g>
<path d="M205.7 602.8h0.01M225.6 621.8h0.01M248 641.7h0.01M272.7 658.4h0.01M299.8 682.9h0.01M332.5 705.3h0.01M369.8 731h0.01M413.4 755.1h0.01M226.1 596.1h0.01M248.5 611.8h0.01M273.5 628.5h0.01M300.9 650.9h0.01M332.5 677.4h0.01M371.1 700.3h0.01M414.7 724.2h0.01" stroke="#000" stroke-width="2" stroke-linecap="round" fill="none"/>
<path d="M428.06 742.07L430.86 741.92L433.56 741.5L436.15 740.82L438.6 739.89L440.9 738.74L443.04 737.37L444.99 735.79L446.74 734.03L448.27 732.1L449.62 730.02L450.79 727.81L451.81 725.49L452.67 723.07L453.41 720.59L454.03 718.05L454.55 715.48L454.99 712.9L455.35 710.32L455.64 707.73L455.85 705.14L455.98 702.55L456.04 699.96L456.03 697.37L455.96 694.79L455.81 692.21L455.59 689.63L455.32 687.07L454.97 684.51L454.57 681.96L454.1 679.43L453.57 676.91L452.98 674.41L452.34 671.92L451.64 669.45L450.89 666.99L450.08 664.56L449.23 662.15L448.32 659.77L447.36 657.4" fill="none" stroke="#ff2020" stroke-width="1.5" stroke-dasharray="5.2 3.4"/>
<rect x="187.8" y="552" width="283" height="240.3" fill="none" stroke="#000" stroke-width="2.9"/>
<path d="M187.8 601.6h4.9M187.8 657.9h4.9M187.8 714.2h4.9M187.8 770.5h4.9" stroke="#000" stroke-width="2.5" fill="none"/>
<path d="M203.8 792.3v-5.5M253.9 792.3v-5.5M304 792.3v-5.5M354.1 792.3v-5.5M404.2 792.3v-5.5M454.3 792.3v-5.5" stroke="#000" stroke-width="2.4" fill="none"/>
<text transform="translate(182.3 606.1) scale(0.986 1.04)" font-size="15" class="k" text-anchor="end">0.01</text>
<text transform="translate(182.3 662.4) scale(0.959 1.04)" font-size="15" class="k" text-anchor="end">1E-3</text>
<text transform="translate(182.3 718.7) scale(0.959 1.04)" font-size="15" class="k" text-anchor="end">1E-4</text>
<text transform="translate(182.3 775) scale(0.959 1.04)" font-size="15" class="k" text-anchor="end">1E-5</text>
<text transform="translate(203.8 811.3) scale(1 1.07)" font-size="15.6" class="k" text-anchor="middle">2.1</text>
<text transform="translate(253.9 811.3) scale(1 1.07)" font-size="15.6" class="k" text-anchor="middle">2.4</text>
<text transform="translate(304 811.3) scale(1 1.07)" font-size="15.6" class="k" text-anchor="middle">2.7</text>
<text transform="translate(354.1 811.3) scale(1 1.07)" font-size="15.6" class="k" text-anchor="middle">3.0</text>
<text transform="translate(404.2 811.3) scale(1 1.07)" font-size="15.6" class="k" text-anchor="middle">3.3</text>
<text transform="translate(454.3 811.3) scale(1 1.07)" font-size="15.6" class="k" text-anchor="middle">3.6</text>
<text transform="translate(145.4 688.7) rotate(-90) scale(1.015 1.1)" font-size="14.6" class="k" text-anchor="middle">logJ(A/cm<tspan font-size="8.5" dy="-6">2</tspan><tspan dy="6">)</tspan></text>
<text transform="translate(275.9 831.3) scale(0.995 1.1)" font-size="14.8" class="k">(1000/T) (K<tspan font-size="8.5" dy="-6.5">-1</tspan><tspan dy="6.5">)</tspan></text>
<text transform="translate(432 580)" font-size="22">(e)</text>
<text transform="translate(260.4 574.3) rotate(22.4) scale(0.934 1)" font-size="16" class="k" font-style="italic">E<tspan font-size="9" dy="6.5">g</tspan><tspan dy="-6.5" dx="1.5">= 0.8261 eV</tspan></text>
<text transform="translate(374 646.5) scale(1.013 1.08)" font-size="15.2" class="k">E<tspan font-size="9.5" dy="7.5">g</tspan><tspan dy="-7.5" dx="1.5">= 0.83 eV</tspan></text>
<text transform="translate(325.9 742.5) rotate(22) scale(0.963 1)" font-size="16" class="k" font-style="italic">E<tspan font-size="9" dy="6.5">g</tspan><tspan dy="-6.5" dx="1.5">= 0.873 eV</tspan></text>
<text transform="translate(203.2 693.2)" font-size="14.1">BFBST-Mn</text>
<text transform="translate(227 726)" font-size="14.3">10 Volt</text>
<text transform="translate(227 744.8)" font-size="14.3">30 Volt</text>
<text transform="translate(227 763.4)" font-size="14.3">70 Volt</text>
<text transform="translate(227.6 781.5) scale(0.96 1.04)" font-size="14.3" class="k">Linear Fit</text>
<circle cx="206.9" cy="721" r="3.5" fill="none" stroke="#000" stroke-width="1.9"/><circle cx="206.9" cy="721" r="1.1"/>
<path d="M204.2 735.2L212.4 739.6L204.2 744Z" fill="#000" stroke="#000" stroke-width="1.6" stroke-linejoin="round"/>
<path d="M201.5 758.4h10.8M206.9 753v10.8M202.5 754l8.8 8.8M202.5 762.8l8.8 -8.8" stroke="#000" stroke-width="1.9" fill="none"/>
<line x1="190" y1="776.5" x2="223.8" y2="776.5" stroke="#000" stroke-width="2.4" stroke-linecap="butt"/>
</svg>
</body></html>
